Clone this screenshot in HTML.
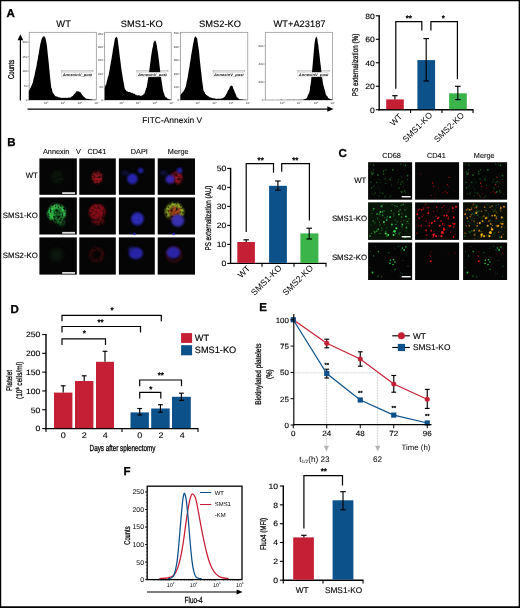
<!DOCTYPE html>
<html><head><meta charset="utf-8"><title>Figure</title>
<style>
html,body{margin:0;padding:0;background:#fff;}
body{width:520px;height:608px;overflow:hidden;position:relative;}
svg{position:absolute;left:0;top:0;display:block;will-change:transform;text-rendering:geometricPrecision;font-family:'Liberation Sans', Arial, Helvetica, sans-serif;}
.frame{position:absolute;left:0;top:0;width:520px;height:608px;box-sizing:border-box;border-style:solid;border-color:#000;border-width:1.5px 2px 2px 1.5px;}
</style></head><body>
<svg width="520" height="608" viewBox="0 0 520 608">
<rect x="0" y="0" width="520" height="608" fill="#fff"/>
<text x="6.50" y="16.50" font-size="11.5" text-anchor="start" font-weight="bold" stroke="#000" stroke-width="0.3">A</text>
<text x="7.30" y="146.20" font-size="11.5" text-anchor="start" font-weight="bold" stroke="#000" stroke-width="0.3">B</text>
<text x="338.50" y="156.70" font-size="11.5" text-anchor="start" font-weight="bold" stroke="#000" stroke-width="0.3">C</text>
<text x="10.50" y="313.30" font-size="11.5" text-anchor="start" font-weight="bold" stroke="#000" stroke-width="0.3">D</text>
<text x="259.30" y="311.30" font-size="11.5" text-anchor="start" font-weight="bold" stroke="#000" stroke-width="0.3">E</text>
<text x="123.50" y="475.20" font-size="11.5" text-anchor="start" font-weight="bold" stroke="#000" stroke-width="0.3">F</text>
<rect x="29.20" y="32.30" width="67.10" height="67.70" fill="#fff" stroke="#8c8c8c" stroke-width="0.7"/>
<path d="M28.77 100.00L28.77 90.97L29.22 89.94L29.67 89.70L30.12 88.19L30.57 87.89L31.02 86.72L31.47 85.39L31.92 84.96L32.37 83.43L32.82 82.53L33.27 80.22L33.72 78.37L34.17 76.90L34.62 75.37L35.07 72.28L35.52 70.15L35.97 68.38L36.42 66.52L36.87 63.73L37.32 61.09L37.77 59.36L38.22 55.82L38.67 54.35L39.12 51.07L39.57 48.30L40.02 45.67L40.47 43.31L40.92 42.07L41.37 39.82L41.82 38.82L42.27 37.70L42.72 37.07L43.17 36.96L43.62 36.06L44.07 36.20L44.52 36.60L44.97 37.39L45.42 38.06L45.87 39.92L46.32 42.25L46.77 44.77L47.22 48.59L47.67 53.18L48.12 57.20L48.57 61.15L49.02 66.05L49.47 70.49L49.92 75.41L50.37 79.74L50.82 83.71L51.27 87.81L51.72 88.42L52.17 90.42L52.62 92.40L53.07 92.78L53.52 93.65L53.97 93.90L54.42 94.94L54.87 95.58L55.32 96.03L55.77 96.42L56.22 96.25L56.67 96.61L57.12 96.70L57.57 96.85L58.02 96.93L58.47 97.26L58.92 97.46L59.37 97.39L59.82 97.62L60.27 97.45L60.72 97.75L61.17 97.76L61.62 97.94L62.07 97.90L62.52 97.72L62.97 97.79L63.42 97.94L63.87 97.72L64.32 97.92L64.77 97.85L65.22 97.86L65.67 97.87L66.12 98.17L66.57 97.87L67.02 97.84L67.47 97.81L67.92 97.93L68.37 97.54L68.82 97.61L69.27 97.58L69.72 97.65L70.17 97.55L70.62 97.50L71.07 96.98L71.52 96.70L71.97 96.33L72.42 96.29L72.87 96.01L73.32 95.17L73.77 94.84L74.22 94.31L74.67 93.69L75.12 93.29L75.57 92.78L76.02 91.87L76.47 91.28L76.92 91.48L77.37 91.22L77.82 91.22L78.27 91.43L78.72 91.26L79.17 91.43L79.62 91.89L80.07 92.30L80.52 92.08L80.97 93.34L81.42 93.87L81.87 94.59L82.32 95.17L82.77 95.56L83.22 96.15L83.67 96.40L84.12 97.08L84.57 97.23L85.02 97.65L85.47 98.13L85.92 98.53L86.37 98.82L86.82 98.79L87.27 98.82L87.72 98.92L88.17 98.95L88.62 99.07L89.07 99.03L89.52 99.31L89.97 99.29L90.42 99.22L90.87 99.29L91.32 99.37L91.77 99.42L92.22 99.41L92.67 99.63L93.12 99.70L93.57 99.64L94.02 99.69L94.47 99.66L94.92 99.71L95.37 99.81L95.82 99.84L96.15 100.00Z" fill="#000" stroke="none" stroke-width="1"/>
<line x1="28.00" y1="42.45" x2="29.20" y2="42.45" stroke="#555" stroke-width="0.4"/>
<text x="27.40" y="43.45" font-size="3.0" text-anchor="end" fill="#2a2a2a">200</text>
<line x1="28.00" y1="56.67" x2="29.20" y2="56.67" stroke="#555" stroke-width="0.4"/>
<text x="27.40" y="57.67" font-size="3.0" text-anchor="end" fill="#2a2a2a">150</text>
<line x1="28.00" y1="71.23" x2="29.20" y2="71.23" stroke="#555" stroke-width="0.4"/>
<text x="27.40" y="72.23" font-size="3.0" text-anchor="end" fill="#2a2a2a">100</text>
<line x1="28.00" y1="85.78" x2="29.20" y2="85.78" stroke="#555" stroke-width="0.4"/>
<text x="27.40" y="86.78" font-size="3.0" text-anchor="end" fill="#2a2a2a">50</text>
<line x1="28.00" y1="100.00" x2="29.20" y2="100.00" stroke="#555" stroke-width="0.4"/>
<text x="27.40" y="101.00" font-size="3.0" text-anchor="end" fill="#2a2a2a">0</text>
<line x1="28.60" y1="100.00" x2="29.20" y2="100.00" stroke="#777" stroke-width="0.25"/>
<line x1="28.60" y1="97.40" x2="29.20" y2="97.40" stroke="#777" stroke-width="0.25"/>
<line x1="28.60" y1="94.79" x2="29.20" y2="94.79" stroke="#777" stroke-width="0.25"/>
<line x1="28.60" y1="92.19" x2="29.20" y2="92.19" stroke="#777" stroke-width="0.25"/>
<line x1="28.60" y1="89.58" x2="29.20" y2="89.58" stroke="#777" stroke-width="0.25"/>
<line x1="28.60" y1="86.98" x2="29.20" y2="86.98" stroke="#777" stroke-width="0.25"/>
<line x1="28.60" y1="84.38" x2="29.20" y2="84.38" stroke="#777" stroke-width="0.25"/>
<line x1="28.60" y1="81.77" x2="29.20" y2="81.77" stroke="#777" stroke-width="0.25"/>
<line x1="28.60" y1="79.17" x2="29.20" y2="79.17" stroke="#777" stroke-width="0.25"/>
<line x1="28.60" y1="76.57" x2="29.20" y2="76.57" stroke="#777" stroke-width="0.25"/>
<line x1="28.60" y1="73.96" x2="29.20" y2="73.96" stroke="#777" stroke-width="0.25"/>
<line x1="28.60" y1="71.36" x2="29.20" y2="71.36" stroke="#777" stroke-width="0.25"/>
<line x1="28.60" y1="68.75" x2="29.20" y2="68.75" stroke="#777" stroke-width="0.25"/>
<line x1="28.60" y1="66.15" x2="29.20" y2="66.15" stroke="#777" stroke-width="0.25"/>
<line x1="28.60" y1="63.55" x2="29.20" y2="63.55" stroke="#777" stroke-width="0.25"/>
<line x1="28.60" y1="60.94" x2="29.20" y2="60.94" stroke="#777" stroke-width="0.25"/>
<line x1="28.60" y1="58.34" x2="29.20" y2="58.34" stroke="#777" stroke-width="0.25"/>
<line x1="28.60" y1="55.73" x2="29.20" y2="55.73" stroke="#777" stroke-width="0.25"/>
<line x1="28.60" y1="53.13" x2="29.20" y2="53.13" stroke="#777" stroke-width="0.25"/>
<line x1="28.60" y1="50.53" x2="29.20" y2="50.53" stroke="#777" stroke-width="0.25"/>
<line x1="28.60" y1="47.92" x2="29.20" y2="47.92" stroke="#777" stroke-width="0.25"/>
<line x1="28.60" y1="45.32" x2="29.20" y2="45.32" stroke="#777" stroke-width="0.25"/>
<line x1="28.60" y1="42.72" x2="29.20" y2="42.72" stroke="#777" stroke-width="0.25"/>
<line x1="28.60" y1="40.11" x2="29.20" y2="40.11" stroke="#777" stroke-width="0.25"/>
<line x1="28.60" y1="37.51" x2="29.20" y2="37.51" stroke="#777" stroke-width="0.25"/>
<line x1="28.60" y1="34.90" x2="29.20" y2="34.90" stroke="#777" stroke-width="0.25"/>
<text x="45.64" y="104.40" font-size="3.0" text-anchor="middle" fill="#2a2a2a">10</text>
<text x="47.84" y="103.10" font-size="2.0" text-anchor="middle" fill="#2a2a2a">2</text>
<text x="62.41" y="104.40" font-size="3.0" text-anchor="middle" fill="#2a2a2a">10</text>
<text x="64.61" y="103.10" font-size="2.0" text-anchor="middle" fill="#2a2a2a">3</text>
<text x="79.19" y="104.40" font-size="3.0" text-anchor="middle" fill="#2a2a2a">10</text>
<text x="81.39" y="103.10" font-size="2.0" text-anchor="middle" fill="#2a2a2a">4</text>
<text x="95.96" y="104.40" font-size="3.0" text-anchor="middle" fill="#2a2a2a">10</text>
<text x="98.16" y="103.10" font-size="2.0" text-anchor="middle" fill="#2a2a2a">5</text>
<line x1="61.68" y1="70.89" x2="93.08" y2="70.89" stroke="#444" stroke-width="0.4"/>
<line x1="61.68" y1="70.09" x2="61.68" y2="71.69" stroke="#444" stroke-width="0.4"/>
<line x1="93.08" y1="70.09" x2="93.08" y2="71.69" stroke="#444" stroke-width="0.4"/>
<rect x="61.68" y="72.19" width="29.20" height="4.70" fill="#fff" stroke="#bbb" stroke-width="0.4"/>
<text x="0" y="0" font-size="3.6" text-anchor="start" transform="translate(62.68 75.89) scale(1.1326 1)" fill="#111" font-style="italic" font-weight="bold">AnnexinV_posi</text>
<text x="63.60" y="27.20" font-size="9.3" text-anchor="middle" stroke="#000" stroke-width="0.12">WT</text>
<rect x="104.70" y="32.30" width="66.50" height="67.70" fill="#fff" stroke="#8c8c8c" stroke-width="0.7"/>
<path d="M104.69 100.00L104.69 88.47L105.14 86.41L105.59 84.99L106.04 84.85L106.49 82.94L106.94 80.78L107.39 79.56L107.84 77.24L108.29 76.14L108.74 74.47L109.19 71.99L109.64 69.45L110.09 66.58L110.54 64.37L110.99 61.55L111.44 59.50L111.89 56.44L112.34 53.95L112.79 50.64L113.24 47.73L113.69 45.73L114.14 43.23L114.59 40.36L115.04 38.30L115.49 37.84L115.94 37.28L116.39 36.56L116.84 37.44L117.29 37.78L117.74 40.05L118.19 43.32L118.64 46.94L119.09 50.44L119.54 54.49L119.99 58.33L120.44 61.25L120.89 65.24L121.34 68.50L121.79 71.67L122.24 74.16L122.69 77.20L123.14 79.91L123.59 82.22L124.04 84.59L124.49 87.44L124.94 89.02L125.39 89.65L125.84 89.91L126.29 90.81L126.74 91.51L127.19 90.88L127.64 91.62L128.09 92.00L128.54 92.00L128.99 92.09L129.44 91.95L129.89 91.79L130.34 92.51L130.79 92.21L131.24 92.77L131.69 93.06L132.14 92.71L132.59 92.94L133.04 93.63L133.49 93.66L133.94 93.43L134.39 93.63L134.84 93.89L135.29 94.68L135.74 94.82L136.19 94.58L136.64 95.24L137.09 95.41L137.54 95.27L137.99 95.14L138.44 95.35L138.89 95.16L139.34 95.16L139.79 95.84L140.24 95.71L140.69 95.71L141.14 96.03L141.59 95.51L142.04 95.57L142.49 95.32L142.94 94.67L143.39 94.47L143.84 94.27L144.29 93.85L144.74 92.82L145.19 91.18L145.64 90.02L146.09 88.36L146.54 87.98L146.99 85.54L147.44 82.67L147.89 79.84L148.34 77.23L148.79 73.66L149.24 71.23L149.69 67.40L150.14 64.10L150.59 60.75L151.04 56.82L151.49 53.99L151.94 50.95L152.39 48.43L152.84 47.07L153.29 44.02L153.74 42.07L154.19 41.51L154.64 40.83L155.09 40.34L155.54 41.35L155.99 42.17L156.44 43.78L156.89 45.91L157.34 49.41L157.79 51.99L158.24 54.97L158.69 59.06L159.14 62.35L159.59 66.03L160.04 69.88L160.49 73.67L160.94 76.54L161.39 79.74L161.84 82.60L162.29 85.59L162.74 88.80L163.19 91.27L163.64 92.55L164.09 93.71L164.54 95.23L164.99 96.25L165.44 96.96L165.89 97.33L166.34 97.38L166.79 97.86L167.24 98.35L167.69 98.65L168.14 98.76L168.59 98.92L169.04 99.17L169.49 99.24L169.94 99.44L170.39 99.57L170.84 99.85L171.15 100.00Z" fill="#000" stroke="none" stroke-width="1"/>
<line x1="103.50" y1="33.65" x2="104.70" y2="33.65" stroke="#555" stroke-width="0.4"/>
<text x="102.90" y="34.65" font-size="3.0" text-anchor="end" fill="#2a2a2a">250</text>
<line x1="103.50" y1="46.52" x2="104.70" y2="46.52" stroke="#555" stroke-width="0.4"/>
<text x="102.90" y="47.52" font-size="3.0" text-anchor="end" fill="#2a2a2a">200</text>
<line x1="103.50" y1="60.06" x2="104.70" y2="60.06" stroke="#555" stroke-width="0.4"/>
<text x="102.90" y="61.06" font-size="3.0" text-anchor="end" fill="#2a2a2a">150</text>
<line x1="103.50" y1="73.60" x2="104.70" y2="73.60" stroke="#555" stroke-width="0.4"/>
<text x="102.90" y="74.60" font-size="3.0" text-anchor="end" fill="#2a2a2a">100</text>
<line x1="103.50" y1="86.80" x2="104.70" y2="86.80" stroke="#555" stroke-width="0.4"/>
<text x="102.90" y="87.80" font-size="3.0" text-anchor="end" fill="#2a2a2a">50</text>
<line x1="103.50" y1="100.00" x2="104.70" y2="100.00" stroke="#555" stroke-width="0.4"/>
<text x="102.90" y="101.00" font-size="3.0" text-anchor="end" fill="#2a2a2a">0</text>
<line x1="104.10" y1="100.00" x2="104.70" y2="100.00" stroke="#777" stroke-width="0.25"/>
<line x1="104.10" y1="97.40" x2="104.70" y2="97.40" stroke="#777" stroke-width="0.25"/>
<line x1="104.10" y1="94.79" x2="104.70" y2="94.79" stroke="#777" stroke-width="0.25"/>
<line x1="104.10" y1="92.19" x2="104.70" y2="92.19" stroke="#777" stroke-width="0.25"/>
<line x1="104.10" y1="89.58" x2="104.70" y2="89.58" stroke="#777" stroke-width="0.25"/>
<line x1="104.10" y1="86.98" x2="104.70" y2="86.98" stroke="#777" stroke-width="0.25"/>
<line x1="104.10" y1="84.38" x2="104.70" y2="84.38" stroke="#777" stroke-width="0.25"/>
<line x1="104.10" y1="81.77" x2="104.70" y2="81.77" stroke="#777" stroke-width="0.25"/>
<line x1="104.10" y1="79.17" x2="104.70" y2="79.17" stroke="#777" stroke-width="0.25"/>
<line x1="104.10" y1="76.57" x2="104.70" y2="76.57" stroke="#777" stroke-width="0.25"/>
<line x1="104.10" y1="73.96" x2="104.70" y2="73.96" stroke="#777" stroke-width="0.25"/>
<line x1="104.10" y1="71.36" x2="104.70" y2="71.36" stroke="#777" stroke-width="0.25"/>
<line x1="104.10" y1="68.75" x2="104.70" y2="68.75" stroke="#777" stroke-width="0.25"/>
<line x1="104.10" y1="66.15" x2="104.70" y2="66.15" stroke="#777" stroke-width="0.25"/>
<line x1="104.10" y1="63.55" x2="104.70" y2="63.55" stroke="#777" stroke-width="0.25"/>
<line x1="104.10" y1="60.94" x2="104.70" y2="60.94" stroke="#777" stroke-width="0.25"/>
<line x1="104.10" y1="58.34" x2="104.70" y2="58.34" stroke="#777" stroke-width="0.25"/>
<line x1="104.10" y1="55.73" x2="104.70" y2="55.73" stroke="#777" stroke-width="0.25"/>
<line x1="104.10" y1="53.13" x2="104.70" y2="53.13" stroke="#777" stroke-width="0.25"/>
<line x1="104.10" y1="50.53" x2="104.70" y2="50.53" stroke="#777" stroke-width="0.25"/>
<line x1="104.10" y1="47.92" x2="104.70" y2="47.92" stroke="#777" stroke-width="0.25"/>
<line x1="104.10" y1="45.32" x2="104.70" y2="45.32" stroke="#777" stroke-width="0.25"/>
<line x1="104.10" y1="42.72" x2="104.70" y2="42.72" stroke="#777" stroke-width="0.25"/>
<line x1="104.10" y1="40.11" x2="104.70" y2="40.11" stroke="#777" stroke-width="0.25"/>
<line x1="104.10" y1="37.51" x2="104.70" y2="37.51" stroke="#777" stroke-width="0.25"/>
<line x1="104.10" y1="34.90" x2="104.70" y2="34.90" stroke="#777" stroke-width="0.25"/>
<text x="120.99" y="104.40" font-size="3.0" text-anchor="middle" fill="#2a2a2a">10</text>
<text x="123.19" y="103.10" font-size="2.0" text-anchor="middle" fill="#2a2a2a">2</text>
<text x="137.62" y="104.40" font-size="3.0" text-anchor="middle" fill="#2a2a2a">10</text>
<text x="139.82" y="103.10" font-size="2.0" text-anchor="middle" fill="#2a2a2a">3</text>
<text x="154.24" y="104.40" font-size="3.0" text-anchor="middle" fill="#2a2a2a">10</text>
<text x="156.44" y="103.10" font-size="2.0" text-anchor="middle" fill="#2a2a2a">4</text>
<text x="170.87" y="104.40" font-size="3.0" text-anchor="middle" fill="#2a2a2a">10</text>
<text x="173.07" y="103.10" font-size="2.0" text-anchor="middle" fill="#2a2a2a">5</text>
<line x1="136.89" y1="70.89" x2="168.01" y2="70.89" stroke="#444" stroke-width="0.4"/>
<line x1="136.89" y1="70.09" x2="136.89" y2="71.69" stroke="#444" stroke-width="0.4"/>
<line x1="168.01" y1="70.09" x2="168.01" y2="71.69" stroke="#444" stroke-width="0.4"/>
<rect x="136.89" y="72.19" width="28.92" height="4.70" fill="#fff" stroke="#bbb" stroke-width="0.4"/>
<text x="0" y="0" font-size="3.6" text-anchor="start" transform="translate(137.89 75.89) scale(1.1201 1)" fill="#111" font-style="italic" font-weight="bold">AnnexinV_posi</text>
<text x="141.80" y="27.20" font-size="9.3" text-anchor="middle" stroke="#000" stroke-width="0.12">SMS1-KO</text>
<rect x="180.60" y="32.30" width="67.20" height="67.70" fill="#fff" stroke="#8c8c8c" stroke-width="0.7"/>
<path d="M180.46 100.00L180.46 95.19L180.91 94.73L181.36 93.60L181.81 93.50L182.26 92.90L182.71 91.72L183.16 91.77L183.61 91.20L184.06 89.65L184.51 89.83L184.96 88.47L185.41 87.56L185.86 86.20L186.31 84.06L186.76 81.29L187.21 79.66L187.66 77.40L188.11 74.50L188.56 71.63L189.01 69.09L189.46 66.88L189.91 63.28L190.36 61.06L190.81 58.07L191.26 54.70L191.71 52.22L192.16 49.72L192.61 47.01L193.06 43.91L193.51 42.44L193.96 39.63L194.41 38.05L194.86 36.65L195.31 36.47L195.76 36.46L196.21 37.74L196.66 37.51L197.11 38.32L197.56 41.46L198.01 44.83L198.46 47.51L198.91 50.61L199.36 54.76L199.81 59.97L200.26 63.84L200.71 68.28L201.16 71.83L201.61 76.08L202.06 80.61L202.51 83.52L202.96 86.31L203.41 90.27L203.86 90.87L204.31 92.01L204.76 92.30L205.21 93.95L205.66 94.05L206.11 94.96L206.56 95.01L207.01 95.28L207.46 95.75L207.91 96.30L208.36 96.26L208.81 96.54L209.26 97.08L209.71 97.28L210.16 97.49L210.61 97.60L211.06 97.65L211.51 97.80L211.96 97.94L212.41 98.03L212.86 98.28L213.31 98.20L213.76 98.37L214.21 98.35L214.66 98.50L215.11 98.49L215.56 98.65L216.01 98.67L216.46 98.90L216.91 98.82L217.36 98.69L217.81 98.75L218.26 98.87L218.71 98.59L219.16 98.79L219.61 98.65L220.06 98.64L220.51 98.73L220.96 98.56L221.41 98.58L221.86 98.61L222.31 98.59L222.76 98.06L223.21 97.94L223.66 97.59L224.11 97.26L224.56 96.84L225.01 96.50L225.46 95.54L225.91 94.70L226.36 93.76L226.81 93.44L227.26 92.15L227.71 91.13L228.16 90.07L228.61 90.00L229.06 89.10L229.51 87.91L229.96 86.56L230.41 86.21L230.86 85.97L231.31 85.87L231.76 85.49L232.21 86.10L232.66 86.15L233.11 87.89L233.56 89.19L234.01 89.97L234.46 90.92L234.91 92.80L235.36 93.36L235.81 94.58L236.26 95.55L236.71 96.95L237.16 97.36L237.61 97.75L238.06 98.01L238.51 98.49L238.96 98.71L239.41 99.17L239.86 99.23L240.31 99.34L240.76 99.29L241.21 99.32L241.66 99.42L242.11 99.44L242.56 99.56L243.01 99.58L243.46 99.66L243.91 99.67L244.36 99.72L244.81 99.79L245.26 99.72L245.71 99.74L246.16 99.90L246.61 99.77L247.06 99.92L247.51 99.94L247.69 100.00Z" fill="#000" stroke="none" stroke-width="1"/>
<line x1="179.40" y1="33.32" x2="180.60" y2="33.32" stroke="#555" stroke-width="0.4"/>
<text x="178.80" y="34.32" font-size="3.0" text-anchor="end" fill="#2a2a2a">500</text>
<line x1="179.40" y1="46.52" x2="180.60" y2="46.52" stroke="#555" stroke-width="0.4"/>
<text x="178.80" y="47.52" font-size="3.0" text-anchor="end" fill="#2a2a2a">400</text>
<line x1="179.40" y1="60.06" x2="180.60" y2="60.06" stroke="#555" stroke-width="0.4"/>
<text x="178.80" y="61.06" font-size="3.0" text-anchor="end" fill="#2a2a2a">300</text>
<line x1="179.40" y1="73.60" x2="180.60" y2="73.60" stroke="#555" stroke-width="0.4"/>
<text x="178.80" y="74.60" font-size="3.0" text-anchor="end" fill="#2a2a2a">200</text>
<line x1="179.40" y1="86.80" x2="180.60" y2="86.80" stroke="#555" stroke-width="0.4"/>
<text x="178.80" y="87.80" font-size="3.0" text-anchor="end" fill="#2a2a2a">100</text>
<line x1="179.40" y1="100.00" x2="180.60" y2="100.00" stroke="#555" stroke-width="0.4"/>
<text x="178.80" y="101.00" font-size="3.0" text-anchor="end" fill="#2a2a2a">0</text>
<line x1="180.00" y1="100.00" x2="180.60" y2="100.00" stroke="#777" stroke-width="0.25"/>
<line x1="180.00" y1="97.40" x2="180.60" y2="97.40" stroke="#777" stroke-width="0.25"/>
<line x1="180.00" y1="94.79" x2="180.60" y2="94.79" stroke="#777" stroke-width="0.25"/>
<line x1="180.00" y1="92.19" x2="180.60" y2="92.19" stroke="#777" stroke-width="0.25"/>
<line x1="180.00" y1="89.58" x2="180.60" y2="89.58" stroke="#777" stroke-width="0.25"/>
<line x1="180.00" y1="86.98" x2="180.60" y2="86.98" stroke="#777" stroke-width="0.25"/>
<line x1="180.00" y1="84.38" x2="180.60" y2="84.38" stroke="#777" stroke-width="0.25"/>
<line x1="180.00" y1="81.77" x2="180.60" y2="81.77" stroke="#777" stroke-width="0.25"/>
<line x1="180.00" y1="79.17" x2="180.60" y2="79.17" stroke="#777" stroke-width="0.25"/>
<line x1="180.00" y1="76.57" x2="180.60" y2="76.57" stroke="#777" stroke-width="0.25"/>
<line x1="180.00" y1="73.96" x2="180.60" y2="73.96" stroke="#777" stroke-width="0.25"/>
<line x1="180.00" y1="71.36" x2="180.60" y2="71.36" stroke="#777" stroke-width="0.25"/>
<line x1="180.00" y1="68.75" x2="180.60" y2="68.75" stroke="#777" stroke-width="0.25"/>
<line x1="180.00" y1="66.15" x2="180.60" y2="66.15" stroke="#777" stroke-width="0.25"/>
<line x1="180.00" y1="63.55" x2="180.60" y2="63.55" stroke="#777" stroke-width="0.25"/>
<line x1="180.00" y1="60.94" x2="180.60" y2="60.94" stroke="#777" stroke-width="0.25"/>
<line x1="180.00" y1="58.34" x2="180.60" y2="58.34" stroke="#777" stroke-width="0.25"/>
<line x1="180.00" y1="55.73" x2="180.60" y2="55.73" stroke="#777" stroke-width="0.25"/>
<line x1="180.00" y1="53.13" x2="180.60" y2="53.13" stroke="#777" stroke-width="0.25"/>
<line x1="180.00" y1="50.53" x2="180.60" y2="50.53" stroke="#777" stroke-width="0.25"/>
<line x1="180.00" y1="47.92" x2="180.60" y2="47.92" stroke="#777" stroke-width="0.25"/>
<line x1="180.00" y1="45.32" x2="180.60" y2="45.32" stroke="#777" stroke-width="0.25"/>
<line x1="180.00" y1="42.72" x2="180.60" y2="42.72" stroke="#777" stroke-width="0.25"/>
<line x1="180.00" y1="40.11" x2="180.60" y2="40.11" stroke="#777" stroke-width="0.25"/>
<line x1="180.00" y1="37.51" x2="180.60" y2="37.51" stroke="#777" stroke-width="0.25"/>
<line x1="180.00" y1="34.90" x2="180.60" y2="34.90" stroke="#777" stroke-width="0.25"/>
<text x="197.06" y="104.40" font-size="3.0" text-anchor="middle" fill="#2a2a2a">10</text>
<text x="199.26" y="103.10" font-size="2.0" text-anchor="middle" fill="#2a2a2a">2</text>
<text x="213.86" y="104.40" font-size="3.0" text-anchor="middle" fill="#2a2a2a">10</text>
<text x="216.06" y="103.10" font-size="2.0" text-anchor="middle" fill="#2a2a2a">3</text>
<text x="230.66" y="104.40" font-size="3.0" text-anchor="middle" fill="#2a2a2a">10</text>
<text x="232.86" y="103.10" font-size="2.0" text-anchor="middle" fill="#2a2a2a">4</text>
<text x="247.46" y="104.40" font-size="3.0" text-anchor="middle" fill="#2a2a2a">10</text>
<text x="249.66" y="103.10" font-size="2.0" text-anchor="middle" fill="#2a2a2a">5</text>
<line x1="213.12" y1="70.89" x2="244.57" y2="70.89" stroke="#444" stroke-width="0.4"/>
<line x1="213.12" y1="70.09" x2="213.12" y2="71.69" stroke="#444" stroke-width="0.4"/>
<line x1="244.57" y1="70.09" x2="244.57" y2="71.69" stroke="#444" stroke-width="0.4"/>
<rect x="213.12" y="72.19" width="29.25" height="4.70" fill="#fff" stroke="#bbb" stroke-width="0.4"/>
<text x="0" y="0" font-size="3.6" text-anchor="start" transform="translate(214.12 75.89) scale(1.1326 1)" fill="#111" font-style="italic" font-weight="bold">AnnexinV_posi</text>
<text x="220.00" y="27.20" font-size="9.3" text-anchor="middle" stroke="#000" stroke-width="0.12">SMS2-KO</text>
<rect x="265.30" y="32.30" width="67.30" height="67.70" fill="#fff" stroke="#8c8c8c" stroke-width="0.7"/>
<path d="M265.19 100.00L265.19 99.92L265.64 100.00L266.09 100.00L266.54 100.00L266.99 100.00L267.44 100.00L267.89 99.92L268.34 99.99L268.79 99.98L269.24 100.00L269.69 100.00L270.14 100.00L270.59 99.99L271.04 100.00L271.49 100.00L271.94 100.00L272.39 99.91L272.84 99.87L273.29 99.89L273.74 99.93L274.19 99.88L274.64 100.00L275.09 99.96L275.54 99.97L275.99 99.97L276.44 99.98L276.89 99.94L277.34 99.85L277.79 99.99L278.24 99.98L278.69 99.93L279.14 99.94L279.59 99.96L280.04 99.84L280.49 99.97L280.94 99.87L281.39 99.84L281.84 99.87L282.29 99.96L282.74 99.85L283.19 99.95L283.64 100.00L284.09 99.90L284.54 99.88L284.99 99.89L285.44 99.93L285.89 99.94L286.34 99.91L286.79 99.92L287.24 99.81L287.69 99.82L288.14 99.84L288.59 99.93L289.04 99.84L289.49 99.89L289.94 99.78L290.39 99.79L290.84 99.82L291.29 99.90L291.74 99.90L292.19 99.90L292.64 99.82L293.09 99.86L293.54 99.85L293.99 99.85L294.44 99.78L294.89 99.92L295.34 99.79L295.79 99.94L296.24 99.93L296.69 99.74L297.14 99.83L297.59 99.90L298.04 99.92L298.49 99.82L298.94 99.78L299.39 99.77L299.84 99.91L300.29 99.76L300.74 99.83L301.19 99.74L301.64 99.82L302.09 99.90L302.54 99.74L302.99 99.77L303.44 99.55L303.89 99.48L304.34 99.28L304.79 99.00L305.24 99.03L305.69 98.75L306.14 98.45L306.59 98.18L307.04 97.38L307.49 96.40L307.94 95.34L308.39 94.24L308.84 93.42L309.29 92.42L309.74 90.47L310.19 86.33L310.64 84.07L311.09 81.03L311.54 76.23L311.99 72.25L312.44 67.04L312.89 62.32L313.34 56.62L313.79 51.65L314.24 46.62L314.69 42.28L315.14 39.54L315.59 37.98L316.04 36.77L316.49 36.95L316.94 37.57L317.39 38.90L317.84 42.63L318.29 44.82L318.74 49.20L319.19 52.43L319.64 56.50L320.09 60.84L320.54 64.30L320.99 67.98L321.44 72.15L321.89 75.52L322.34 78.90L322.79 82.14L323.24 84.62L323.69 86.45L324.14 87.78L324.59 89.79L325.04 90.85L325.49 93.32L325.94 94.45L326.39 95.31L326.84 95.89L327.29 96.35L327.74 96.91L328.19 97.96L328.64 98.32L329.09 98.61L329.54 98.73L329.99 98.87L330.44 99.15L330.89 99.37L331.34 99.35L331.79 99.59L332.24 99.68L332.50 100.00Z" fill="#000" stroke="none" stroke-width="1"/>
<line x1="264.10" y1="45.84" x2="265.30" y2="45.84" stroke="#555" stroke-width="0.4"/>
<text x="263.50" y="46.84" font-size="3.0" text-anchor="end" fill="#2a2a2a">600</text>
<line x1="264.10" y1="64.12" x2="265.30" y2="64.12" stroke="#555" stroke-width="0.4"/>
<text x="263.50" y="65.12" font-size="3.0" text-anchor="end" fill="#2a2a2a">400</text>
<line x1="264.10" y1="82.06" x2="265.30" y2="82.06" stroke="#555" stroke-width="0.4"/>
<text x="263.50" y="83.06" font-size="3.0" text-anchor="end" fill="#2a2a2a">200</text>
<line x1="264.10" y1="100.00" x2="265.30" y2="100.00" stroke="#555" stroke-width="0.4"/>
<text x="263.50" y="101.00" font-size="3.0" text-anchor="end" fill="#2a2a2a">0</text>
<line x1="264.70" y1="100.00" x2="265.30" y2="100.00" stroke="#777" stroke-width="0.25"/>
<line x1="264.70" y1="97.40" x2="265.30" y2="97.40" stroke="#777" stroke-width="0.25"/>
<line x1="264.70" y1="94.79" x2="265.30" y2="94.79" stroke="#777" stroke-width="0.25"/>
<line x1="264.70" y1="92.19" x2="265.30" y2="92.19" stroke="#777" stroke-width="0.25"/>
<line x1="264.70" y1="89.58" x2="265.30" y2="89.58" stroke="#777" stroke-width="0.25"/>
<line x1="264.70" y1="86.98" x2="265.30" y2="86.98" stroke="#777" stroke-width="0.25"/>
<line x1="264.70" y1="84.38" x2="265.30" y2="84.38" stroke="#777" stroke-width="0.25"/>
<line x1="264.70" y1="81.77" x2="265.30" y2="81.77" stroke="#777" stroke-width="0.25"/>
<line x1="264.70" y1="79.17" x2="265.30" y2="79.17" stroke="#777" stroke-width="0.25"/>
<line x1="264.70" y1="76.57" x2="265.30" y2="76.57" stroke="#777" stroke-width="0.25"/>
<line x1="264.70" y1="73.96" x2="265.30" y2="73.96" stroke="#777" stroke-width="0.25"/>
<line x1="264.70" y1="71.36" x2="265.30" y2="71.36" stroke="#777" stroke-width="0.25"/>
<line x1="264.70" y1="68.75" x2="265.30" y2="68.75" stroke="#777" stroke-width="0.25"/>
<line x1="264.70" y1="66.15" x2="265.30" y2="66.15" stroke="#777" stroke-width="0.25"/>
<line x1="264.70" y1="63.55" x2="265.30" y2="63.55" stroke="#777" stroke-width="0.25"/>
<line x1="264.70" y1="60.94" x2="265.30" y2="60.94" stroke="#777" stroke-width="0.25"/>
<line x1="264.70" y1="58.34" x2="265.30" y2="58.34" stroke="#777" stroke-width="0.25"/>
<line x1="264.70" y1="55.73" x2="265.30" y2="55.73" stroke="#777" stroke-width="0.25"/>
<line x1="264.70" y1="53.13" x2="265.30" y2="53.13" stroke="#777" stroke-width="0.25"/>
<line x1="264.70" y1="50.53" x2="265.30" y2="50.53" stroke="#777" stroke-width="0.25"/>
<line x1="264.70" y1="47.92" x2="265.30" y2="47.92" stroke="#777" stroke-width="0.25"/>
<line x1="264.70" y1="45.32" x2="265.30" y2="45.32" stroke="#777" stroke-width="0.25"/>
<line x1="264.70" y1="42.72" x2="265.30" y2="42.72" stroke="#777" stroke-width="0.25"/>
<line x1="264.70" y1="40.11" x2="265.30" y2="40.11" stroke="#777" stroke-width="0.25"/>
<line x1="264.70" y1="37.51" x2="265.30" y2="37.51" stroke="#777" stroke-width="0.25"/>
<line x1="264.70" y1="34.90" x2="265.30" y2="34.90" stroke="#777" stroke-width="0.25"/>
<text x="281.79" y="104.40" font-size="3.0" text-anchor="middle" fill="#2a2a2a">10</text>
<text x="283.99" y="103.10" font-size="2.0" text-anchor="middle" fill="#2a2a2a">2</text>
<text x="298.61" y="104.40" font-size="3.0" text-anchor="middle" fill="#2a2a2a">10</text>
<text x="300.81" y="103.10" font-size="2.0" text-anchor="middle" fill="#2a2a2a">3</text>
<text x="315.44" y="104.40" font-size="3.0" text-anchor="middle" fill="#2a2a2a">10</text>
<text x="317.64" y="103.10" font-size="2.0" text-anchor="middle" fill="#2a2a2a">4</text>
<text x="332.26" y="104.40" font-size="3.0" text-anchor="middle" fill="#2a2a2a">10</text>
<text x="334.46" y="103.10" font-size="2.0" text-anchor="middle" fill="#2a2a2a">5</text>
<line x1="297.87" y1="70.89" x2="329.37" y2="70.89" stroke="#444" stroke-width="0.4"/>
<line x1="297.87" y1="70.09" x2="297.87" y2="71.69" stroke="#444" stroke-width="0.4"/>
<line x1="329.37" y1="70.09" x2="329.37" y2="71.69" stroke="#444" stroke-width="0.4"/>
<rect x="297.87" y="72.19" width="29.30" height="4.70" fill="#fff" stroke="#bbb" stroke-width="0.4"/>
<text x="0" y="0" font-size="3.6" text-anchor="start" transform="translate(298.87 75.89) scale(1.1367 1)" fill="#111" font-style="italic" font-weight="bold">AnnexinV_posi</text>
<text x="299.50" y="27.20" font-size="9.3" text-anchor="middle" stroke="#000" stroke-width="0.12">WT+A23187</text>
<line x1="20.40" y1="100.40" x2="20.40" y2="38.00" stroke="#000" stroke-width="1.2"/>
<path d="M20.4 34.3L17.6 40.3H23.2Z" fill="#000" stroke="none" stroke-width="1"/>
<text x="0" y="0" font-size="8.4" text-anchor="middle" transform="translate(14.30 69.40) rotate(-90) scale(0.7252 1)" stroke="#000" stroke-width="0.3">Counts</text>
<line x1="27.50" y1="109.00" x2="329.00" y2="109.00" stroke="#000" stroke-width="1.25"/>
<path d="M333.5 109.0L327.3 106.2V111.8Z" fill="#000" stroke="none" stroke-width="1"/>
<text x="172.20" y="122.70" font-size="8.45" text-anchor="middle" stroke="#000" stroke-width="0.1">FITC-Annexin V</text>
<line x1="379.20" y1="15.25" x2="379.20" y2="110.40" stroke="#000" stroke-width="1.4"/>
<line x1="375.80" y1="109.70" x2="379.20" y2="109.70" stroke="#000" stroke-width="1.1"/>
<text x="0" y="0" font-size="7.7" text-anchor="end" transform="translate(374.90 112.50) scale(1.1200 1)" stroke="#000" stroke-width="0.12">0</text>
<line x1="375.80" y1="86.22" x2="379.20" y2="86.22" stroke="#000" stroke-width="1.1"/>
<text x="0" y="0" font-size="7.7" text-anchor="end" transform="translate(374.90 89.02) scale(1.1200 1)" stroke="#000" stroke-width="0.12">20</text>
<line x1="375.80" y1="62.75" x2="379.20" y2="62.75" stroke="#000" stroke-width="1.1"/>
<text x="0" y="0" font-size="7.7" text-anchor="end" transform="translate(374.90 65.55) scale(1.1200 1)" stroke="#000" stroke-width="0.12">40</text>
<line x1="375.80" y1="39.27" x2="379.20" y2="39.27" stroke="#000" stroke-width="1.1"/>
<text x="0" y="0" font-size="7.7" text-anchor="end" transform="translate(374.90 42.07) scale(1.1200 1)" stroke="#000" stroke-width="0.12">60</text>
<line x1="375.80" y1="15.80" x2="379.20" y2="15.80" stroke="#000" stroke-width="1.1"/>
<text x="0" y="0" font-size="7.7" text-anchor="end" transform="translate(374.90 18.60) scale(1.1200 1)" stroke="#000" stroke-width="0.12">80</text>
<line x1="378.50" y1="109.70" x2="473.50" y2="109.70" stroke="#000" stroke-width="1.4"/>
<line x1="410.60" y1="109.70" x2="410.60" y2="113.10" stroke="#000" stroke-width="1.1"/>
<line x1="442.00" y1="109.70" x2="442.00" y2="113.10" stroke="#000" stroke-width="1.1"/>
<line x1="473.00" y1="109.70" x2="473.00" y2="113.10" stroke="#000" stroke-width="1.1"/>
<rect x="386.20" y="99.40" width="17.60" height="9.80" fill="#c41f35"/>
<rect x="417.40" y="60.10" width="17.70" height="49.10" fill="#0d518a"/>
<rect x="449.10" y="93.30" width="17.70" height="15.90" fill="#3bb44a"/>
<line x1="394.90" y1="95.70" x2="394.90" y2="99.40" stroke="#000" stroke-width="1.15"/>
<line x1="392.20" y1="95.70" x2="397.60" y2="95.70" stroke="#000" stroke-width="1.15"/>
<line x1="426.20" y1="38.60" x2="426.20" y2="81.00" stroke="#000" stroke-width="1.15"/>
<line x1="423.40" y1="38.60" x2="429.00" y2="38.60" stroke="#000" stroke-width="1.15"/>
<line x1="423.40" y1="81.00" x2="429.00" y2="81.00" stroke="#000" stroke-width="1.15"/>
<line x1="457.80" y1="86.30" x2="457.80" y2="99.60" stroke="#000" stroke-width="1.15"/>
<line x1="455.00" y1="86.30" x2="460.60" y2="86.30" stroke="#000" stroke-width="1.15"/>
<line x1="455.00" y1="99.60" x2="460.60" y2="99.60" stroke="#000" stroke-width="1.15"/>
<path d="M395.80 88.70V21.60H421.80V30.40" fill="none" stroke="#000" stroke-width="1.2"/>
<path d="M430.90 30.40V21.60H457.40V79.20" fill="none" stroke="#000" stroke-width="1.2"/>
<text x="408.80" y="20.98" font-size="8" text-anchor="middle" stroke="#000" stroke-width="0.35">**</text>
<text x="443.20" y="20.98" font-size="8" text-anchor="middle" stroke="#000" stroke-width="0.35">*</text>
<text x="0" y="0" font-size="8.3" text-anchor="middle" transform="translate(357.60 65.00) rotate(-90) scale(0.7612 1)" stroke="#000" stroke-width="0.25">PS externalization (%)</text>
<text x="402.80" y="117.10" font-size="8.5" text-anchor="end" transform="rotate(-45 402.80 117.10)">WT</text>
<text x="433.00" y="115.70" font-size="8.5" text-anchor="end" transform="rotate(-45 433.00 115.70)">SMS1-KO</text>
<text x="464.60" y="115.70" font-size="8.5" text-anchor="end" transform="rotate(-45 464.60 115.70)">SMS2-KO</text>
<defs><filter id="b1" x="-50%" y="-50%" width="200%" height="200%"><feGaussianBlur stdDeviation="1.1"/></filter><filter id="b2" x="-50%" y="-50%" width="200%" height="200%"><feGaussianBlur stdDeviation="2"/></filter><filter id="b05" x="-50%" y="-50%" width="200%" height="200%"><feGaussianBlur stdDeviation="0.4"/></filter><filter id="tx" x="-50%" y="-50%" width="200%" height="200%"><feTurbulence type="fractalNoise" baseFrequency="0.42" numOctaves="2" seed="4" result="n"/><feColorMatrix in="n" type="matrix" values="0 0 0 0 0 0 0 0 0 0 0 0 0 0 0 0 0 0 2.6 -0.55" result="a"/><feGaussianBlur in="SourceGraphic" stdDeviation="1.2" result="b"/><feComposite in="b" in2="a" operator="in" result="c"/><feGaussianBlur in="c" stdDeviation="0.35"/></filter><filter id="tx2" x="-50%" y="-50%" width="200%" height="200%"><feTurbulence type="fractalNoise" baseFrequency="0.5" numOctaves="2" seed="9" result="n"/><feColorMatrix in="n" type="matrix" values="0 0 0 0 0 0 0 0 0 0 0 0 0 0 0 0 0 0 2.8 -0.7" result="a"/><feGaussianBlur in="SourceGraphic" stdDeviation="0.9" result="b"/><feComposite in="b" in2="a" operator="in" result="c"/><feGaussianBlur in="c" stdDeviation="0.3"/></filter></defs>
<rect x="39.40" y="158.40" width="37.40" height="36.40" fill="#050505"/>
<rect x="79.30" y="158.40" width="36.50" height="36.40" fill="#050505"/>
<rect x="118.90" y="158.40" width="35.90" height="36.40" fill="#050505"/>
<rect x="157.70" y="158.40" width="37.30" height="36.40" fill="#050505"/>
<rect x="62.20" y="192.20" width="12.80" height="1.80" fill="#dcdcdc"/>
<rect x="39.40" y="197.40" width="37.40" height="37.10" fill="#050505"/>
<rect x="79.30" y="197.40" width="36.50" height="37.10" fill="#050505"/>
<rect x="118.90" y="197.40" width="35.90" height="37.10" fill="#050505"/>
<rect x="157.70" y="197.40" width="37.30" height="37.10" fill="#050505"/>
<rect x="62.20" y="231.90" width="12.80" height="1.80" fill="#dcdcdc"/>
<rect x="39.40" y="237.40" width="37.40" height="37.20" fill="#050505"/>
<rect x="79.30" y="237.40" width="36.50" height="37.20" fill="#050505"/>
<rect x="118.90" y="237.40" width="35.90" height="37.20" fill="#050505"/>
<rect x="157.70" y="237.40" width="37.30" height="37.20" fill="#050505"/>
<rect x="62.20" y="272.00" width="12.80" height="1.80" fill="#dcdcdc"/>
<g>
<ellipse cx="57.5" cy="177.0" rx="6.5" ry="7" fill="#2a5a26" opacity="0.2" filter="url(#tx)"/>
<ellipse cx="97.2" cy="177.5" rx="5.8" ry="6.4" fill="#ac1420" opacity="0.85" filter="url(#tx)"/>
<ellipse cx="132.4" cy="178.8" rx="5.2" ry="5.2" fill="#2a28ba" opacity="0.95" filter="url(#b1)"/>
<ellipse cx="140.7" cy="170.6" rx="2.6" ry="2.6" fill="#2a28ba" opacity="0.95" filter="url(#b1)"/>
<ellipse cx="125.0" cy="173.0" rx="4" ry="2.5" fill="#151560" opacity="0.55" filter="url(#b1)"/>
<ellipse cx="176.8" cy="177.8" rx="5.8" ry="6.4" fill="#ac1420" opacity="0.85" filter="url(#tx)"/>
<ellipse cx="170.0" cy="179.2" rx="4.4" ry="4.4" fill="#3a28ba" opacity="0.95" filter="url(#b1)"/>
<ellipse cx="179.6" cy="170.4" rx="2.6" ry="2.6" fill="#2a28ba" opacity="0.95" filter="url(#b1)"/>
<ellipse cx="163.5" cy="173.0" rx="4" ry="2.5" fill="#151560" opacity="0.55" filter="url(#b1)"/>
<ellipse cx="56.8" cy="213.5" rx="8.6" ry="9.0" fill="#1f8a32" opacity="0.75" filter="url(#tx2)"/>
<path d="M50.6 217.1A7.2 7.2 0 1 1 63.6 216.0" fill="none" stroke="#40d458" stroke-width="4.0" stroke-linecap="round" opacity="0.95" filter="url(#tx2)"/>
<ellipse cx="52.5" cy="214.0" rx="3" ry="6" fill="#30c848" opacity="0.8" filter="url(#tx2)"/>
<ellipse cx="60.5" cy="222.5" rx="4.5" ry="3.5" fill="#1f8030" opacity="0.7" filter="url(#tx2)"/>
<ellipse cx="97.2" cy="212.0" rx="8.2" ry="8.0" fill="#a81018" opacity="0.95" filter="url(#tx)"/>
<ellipse cx="97.2" cy="212.5" rx="7" ry="7.4" fill="#70101a" opacity="0.45" filter="url(#b1)"/>
<ellipse cx="98.0" cy="221.5" rx="6.5" ry="3.8" fill="#700c14" opacity="0.8" filter="url(#tx)"/>
<ellipse cx="137.4" cy="218.8" rx="6.4" ry="6.6" fill="#2a28b0" opacity="0.95" filter="url(#b1)"/>
<ellipse cx="137.4" cy="218.8" rx="5" ry="5" fill="#3a3ad0" opacity="0.5" filter="url(#tx)"/>
<ellipse cx="134.5" cy="234.0" rx="1.2" ry="1.2" fill="#2a2ad0" opacity="0.9" filter="url(#b05)"/>
<ellipse cx="174.5" cy="212.0" rx="8.6" ry="8.6" fill="#7a3a18" opacity="0.85" filter="url(#tx)"/>
<path d="M168.1 215.7A7.4 7.4 0 1 1 181.5 214.5" fill="none" stroke="#9ad02c" stroke-width="3.6" stroke-linecap="round" opacity="1" filter="url(#tx2)"/>
<ellipse cx="175.5" cy="211.0" rx="5" ry="4.6" fill="#b84a1a" opacity="0.8" filter="url(#tx)"/>
<ellipse cx="177.8" cy="220.6" rx="6.4" ry="6.2" fill="#3a30b4" opacity="0.98" filter="url(#b1)"/>
<ellipse cx="173.5" cy="234.0" rx="1.2" ry="1.2" fill="#2a2ad0" opacity="0.9" filter="url(#b05)"/>
<ellipse cx="56.5" cy="255.0" rx="6.5" ry="6.5" fill="#1e3a20" opacity="0.35" filter="url(#b2)"/>
<circle cx="96.6" cy="254.8" r="6.0" fill="none" stroke="#8a1018" stroke-width="3.2" opacity="0.42" filter="url(#tx)"/>
<ellipse cx="135.9" cy="253.2" rx="7.0" ry="6.0" fill="#2a28b0" opacity="0.95" filter="url(#b1)"/>
<ellipse cx="131.0" cy="249.0" rx="3" ry="2.5" fill="#20208a" opacity="0.6" filter="url(#b1)"/>
<circle cx="174" cy="254.5" r="7" fill="none" stroke="#7a1024" stroke-width="2.6" opacity="0.42" filter="url(#b1)"/>
<ellipse cx="173.3" cy="252.6" rx="6.8" ry="5.8" fill="#2e28b0" opacity="0.95" filter="url(#b1)"/>
</g>
<text x="96.90" y="153.50" font-size="7.3" text-anchor="middle" stroke="#000" stroke-width="0.08">CD41</text>
<text x="139.30" y="153.50" font-size="7.3" text-anchor="middle" stroke="#000" stroke-width="0.08">DAPI</text>
<text x="178.20" y="153.50" font-size="7.3" text-anchor="middle" stroke="#000" stroke-width="0.08">Merge</text>
<text x="43.00" y="153.60" font-size="7.3" text-anchor="start" stroke="#000" stroke-width="0.08">Annexin</text>
<text x="76.00" y="153.60" font-size="7.3" text-anchor="start" stroke="#000" stroke-width="0.08">V</text>
<text x="37.80" y="177.70" font-size="7.8" text-anchor="end" stroke="#000" stroke-width="0.12">WT</text>
<text x="37.80" y="218.20" font-size="7.8" text-anchor="end" stroke="#000" stroke-width="0.12">SMS1-KO</text>
<text x="37.80" y="258.30" font-size="7.8" text-anchor="end" stroke="#000" stroke-width="0.12">SMS2-KO</text>
<line x1="230.60" y1="167.85" x2="230.60" y2="264.10" stroke="#000" stroke-width="1.4"/>
<line x1="227.20" y1="263.40" x2="230.60" y2="263.40" stroke="#000" stroke-width="1.1"/>
<text x="0" y="0" font-size="7.7" text-anchor="end" transform="translate(226.30 266.20) scale(1.1200 1)" stroke="#000" stroke-width="0.12">0</text>
<line x1="227.20" y1="244.40" x2="230.60" y2="244.40" stroke="#000" stroke-width="1.1"/>
<text x="0" y="0" font-size="7.7" text-anchor="end" transform="translate(226.30 247.20) scale(1.1200 1)" stroke="#000" stroke-width="0.12">10</text>
<line x1="227.20" y1="225.40" x2="230.60" y2="225.40" stroke="#000" stroke-width="1.1"/>
<text x="0" y="0" font-size="7.7" text-anchor="end" transform="translate(226.30 228.20) scale(1.1200 1)" stroke="#000" stroke-width="0.12">20</text>
<line x1="227.20" y1="206.40" x2="230.60" y2="206.40" stroke="#000" stroke-width="1.1"/>
<text x="0" y="0" font-size="7.7" text-anchor="end" transform="translate(226.30 209.20) scale(1.1200 1)" stroke="#000" stroke-width="0.12">30</text>
<line x1="227.20" y1="187.40" x2="230.60" y2="187.40" stroke="#000" stroke-width="1.1"/>
<text x="0" y="0" font-size="7.7" text-anchor="end" transform="translate(226.30 190.20) scale(1.1200 1)" stroke="#000" stroke-width="0.12">40</text>
<line x1="227.20" y1="168.40" x2="230.60" y2="168.40" stroke="#000" stroke-width="1.1"/>
<text x="0" y="0" font-size="7.7" text-anchor="end" transform="translate(226.30 171.20) scale(1.1200 1)" stroke="#000" stroke-width="0.12">50</text>
<line x1="229.90" y1="263.40" x2="326.50" y2="263.40" stroke="#000" stroke-width="1.4"/>
<line x1="262.00" y1="263.40" x2="262.00" y2="266.80" stroke="#000" stroke-width="1.1"/>
<line x1="294.00" y1="263.40" x2="294.00" y2="266.80" stroke="#000" stroke-width="1.1"/>
<line x1="326.00" y1="263.40" x2="326.00" y2="266.80" stroke="#000" stroke-width="1.1"/>
<rect x="237.30" y="242.00" width="17.60" height="20.90" fill="#c41f35"/>
<rect x="269.10" y="185.80" width="17.80" height="77.10" fill="#0d518a"/>
<rect x="300.40" y="233.40" width="18.00" height="29.50" fill="#3bb44a"/>
<line x1="246.20" y1="239.80" x2="246.20" y2="242.00" stroke="#000" stroke-width="1.15"/>
<line x1="243.50" y1="239.80" x2="248.90" y2="239.80" stroke="#000" stroke-width="1.15"/>
<line x1="277.90" y1="181.00" x2="277.90" y2="190.10" stroke="#000" stroke-width="1.15"/>
<line x1="275.10" y1="181.00" x2="280.70" y2="181.00" stroke="#000" stroke-width="1.15"/>
<line x1="275.10" y1="190.10" x2="280.70" y2="190.10" stroke="#000" stroke-width="1.15"/>
<line x1="309.20" y1="228.20" x2="309.20" y2="239.00" stroke="#000" stroke-width="1.15"/>
<line x1="306.40" y1="228.20" x2="312.00" y2="228.20" stroke="#000" stroke-width="1.15"/>
<line x1="306.40" y1="239.00" x2="312.00" y2="239.00" stroke="#000" stroke-width="1.15"/>
<path d="M246.20 232.00V163.70H273.50V172.80" fill="none" stroke="#000" stroke-width="1.2"/>
<path d="M281.70 171.80V163.70H309.40V220.40" fill="none" stroke="#000" stroke-width="1.2"/>
<text x="260.70" y="163.48" font-size="8" text-anchor="middle" stroke="#000" stroke-width="0.35">**</text>
<text x="295.30" y="163.48" font-size="8" text-anchor="middle" stroke="#000" stroke-width="0.35">**</text>
<text x="0" y="0" font-size="8.3" text-anchor="middle" transform="translate(211.40 218.10) rotate(-90) scale(0.7512 1)" stroke="#000" stroke-width="0.25">PS externalization (AU)</text>
<text x="250.70" y="268.90" font-size="8.7" text-anchor="end" transform="rotate(-45 250.70 268.90)">WT</text>
<text x="282.20" y="268.40" font-size="8.7" text-anchor="end" transform="rotate(-45 282.20 268.40)">SMS1-KO</text>
<text x="313.70" y="268.40" font-size="8.7" text-anchor="end" transform="rotate(-45 313.70 268.40)">SMS2-KO</text>
<rect x="368.10" y="162.20" width="44.00" height="37.50" fill="#050505"/>
<rect x="415.10" y="162.20" width="44.00" height="37.50" fill="#050505"/>
<rect x="463.10" y="162.20" width="44.00" height="37.50" fill="#050505"/>
<rect x="368.10" y="202.40" width="44.00" height="37.50" fill="#050505"/>
<rect x="415.10" y="202.40" width="44.00" height="37.50" fill="#050505"/>
<rect x="463.10" y="202.40" width="44.00" height="37.50" fill="#050505"/>
<rect x="368.10" y="242.50" width="44.00" height="37.50" fill="#050505"/>
<rect x="415.10" y="242.50" width="44.00" height="37.50" fill="#050505"/>
<rect x="463.10" y="242.50" width="44.00" height="37.50" fill="#050505"/>
<g fill="#2aa838" filter="url(#b05)"><circle cx="375.3" cy="192.7" r="0.77" opacity="0.33"/><circle cx="389.9" cy="179.2" r="0.71" opacity="0.59"/><circle cx="373.7" cy="165.0" r="0.81" opacity="0.42"/><circle cx="400.7" cy="164.1" r="0.59" opacity="0.56"/><circle cx="379.1" cy="196.0" r="0.85" opacity="0.22"/><circle cx="370.9" cy="182.3" r="0.87" opacity="0.39"/><circle cx="378.6" cy="178.3" r="0.37" opacity="0.31"/><circle cx="387.6" cy="180.8" r="0.48" opacity="0.32"/><circle cx="378.7" cy="179.6" r="0.51" opacity="0.21"/><circle cx="403.8" cy="182.9" r="0.70" opacity="0.29"/><circle cx="410.0" cy="193.1" r="0.42" opacity="0.37"/><circle cx="399.1" cy="188.1" r="0.87" opacity="0.41"/><circle cx="403.5" cy="186.7" r="0.52" opacity="0.49"/><circle cx="405.6" cy="192.6" r="0.63" opacity="0.49"/><circle cx="371.3" cy="172.3" r="0.79" opacity="0.41"/><circle cx="376.9" cy="182.6" r="0.74" opacity="0.54"/><circle cx="385.0" cy="178.9" r="0.63" opacity="0.59"/><circle cx="390.9" cy="177.3" r="0.62" opacity="0.21"/><circle cx="371.6" cy="187.8" r="0.89" opacity="0.50"/><circle cx="385.8" cy="169.8" r="0.63" opacity="0.69"/><circle cx="401.1" cy="182.3" r="0.82" opacity="0.32"/><circle cx="390.7" cy="196.2" r="0.67" opacity="0.43"/><circle cx="380.8" cy="182.6" r="0.88" opacity="0.20"/><circle cx="401.6" cy="191.8" r="0.84" opacity="0.57"/><circle cx="402.6" cy="181.6" r="0.66" opacity="0.41"/><circle cx="372.1" cy="193.4" r="0.66" opacity="0.30"/><circle cx="390.3" cy="180.4" r="0.55" opacity="0.37"/><circle cx="391.7" cy="185.1" r="0.69" opacity="0.43"/><circle cx="371.0" cy="171.8" r="0.45" opacity="0.49"/><circle cx="404.7" cy="191.0" r="0.79" opacity="0.61"/><circle cx="380.2" cy="192.5" r="0.72" opacity="0.24"/><circle cx="370.5" cy="164.6" r="0.77" opacity="0.32"/><circle cx="374.3" cy="185.2" r="0.54" opacity="0.23"/><circle cx="376.3" cy="181.9" r="0.44" opacity="0.34"/><circle cx="398.7" cy="179.4" r="0.53" opacity="0.44"/><circle cx="370.8" cy="177.1" r="0.58" opacity="0.29"/><circle cx="374.3" cy="194.4" r="0.63" opacity="0.30"/><circle cx="394.4" cy="191.7" r="0.36" opacity="0.21"/><circle cx="375.8" cy="188.3" r="0.44" opacity="0.55"/><circle cx="397.3" cy="182.5" r="0.47" opacity="0.69"/><circle cx="402.2" cy="181.5" r="0.47" opacity="0.52"/><circle cx="385.8" cy="183.5" r="0.53" opacity="0.52"/><circle cx="372.2" cy="174.2" r="0.88" opacity="0.64"/><circle cx="382.3" cy="193.0" r="0.52" opacity="0.67"/><circle cx="400.0" cy="178.1" r="0.49" opacity="0.20"/><circle cx="405.4" cy="165.4" r="0.80" opacity="0.68"/><circle cx="392.9" cy="169.9" r="0.83" opacity="0.69"/><circle cx="398.4" cy="181.2" r="0.56" opacity="0.37"/><circle cx="378.2" cy="186.8" r="0.59" opacity="0.30"/><circle cx="374.1" cy="186.6" r="0.51" opacity="0.45"/><circle cx="383.0" cy="193.5" r="0.84" opacity="0.21"/><circle cx="378.0" cy="175.1" r="0.89" opacity="0.59"/><circle cx="383.6" cy="171.3" r="0.72" opacity="0.62"/><circle cx="407.6" cy="175.7" r="0.84" opacity="0.54"/><circle cx="389.5" cy="197.3" r="0.48" opacity="0.56"/><circle cx="373.3" cy="169.8" r="0.85" opacity="0.31"/><circle cx="400.6" cy="184.3" r="0.81" opacity="0.38"/><circle cx="383.6" cy="173.9" r="0.83" opacity="0.50"/><circle cx="408.5" cy="194.0" r="0.42" opacity="0.48"/><circle cx="374.1" cy="165.4" r="0.39" opacity="0.63"/><circle cx="401.8" cy="192.0" r="0.54" opacity="0.51"/><circle cx="401.5" cy="176.8" r="0.66" opacity="0.31"/><circle cx="373.2" cy="173.1" r="0.84" opacity="0.48"/><circle cx="407.3" cy="179.5" r="0.50" opacity="0.59"/><circle cx="403.4" cy="164.5" r="0.72" opacity="0.25"/><circle cx="374.5" cy="193.9" r="0.37" opacity="0.32"/><circle cx="409.9" cy="178.3" r="0.41" opacity="0.28"/><circle cx="379.6" cy="189.2" r="0.41" opacity="0.66"/><circle cx="385.2" cy="196.8" r="0.85" opacity="0.35"/><circle cx="380.1" cy="180.2" r="0.41" opacity="0.53"/></g>
<g fill="#e0141c" filter="url(#b05)"><circle cx="448.9" cy="196.6" r="0.37" opacity="0.45"/><circle cx="445.2" cy="191.4" r="0.62" opacity="0.57"/><circle cx="438.2" cy="188.2" r="0.58" opacity="0.49"/><circle cx="432.8" cy="183.0" r="0.64" opacity="0.95"/><circle cx="448.7" cy="186.7" r="0.53" opacity="0.55"/><circle cx="420.6" cy="174.1" r="0.54" opacity="0.58"/><circle cx="431.2" cy="195.2" r="0.56" opacity="0.71"/><circle cx="426.8" cy="174.0" r="0.48" opacity="0.48"/><circle cx="435.2" cy="197.8" r="0.62" opacity="0.50"/><circle cx="447.0" cy="192.9" r="0.64" opacity="0.90"/><circle cx="443.0" cy="192.7" r="0.49" opacity="0.94"/><circle cx="449.1" cy="177.4" r="0.65" opacity="0.79"/><circle cx="433.7" cy="186.4" r="0.55" opacity="0.91"/><circle cx="434.9" cy="193.7" r="0.49" opacity="0.89"/><circle cx="447.2" cy="184.7" r="0.58" opacity="0.91"/><circle cx="441.8" cy="185.3" r="0.44" opacity="0.58"/></g>
<g fill="#2aa838" filter="url(#b05)"><circle cx="470.3" cy="192.7" r="0.77" opacity="0.33"/><circle cx="484.9" cy="179.2" r="0.71" opacity="0.59"/><circle cx="468.7" cy="165.0" r="0.81" opacity="0.42"/><circle cx="495.7" cy="164.1" r="0.59" opacity="0.56"/><circle cx="474.1" cy="196.0" r="0.85" opacity="0.22"/><circle cx="465.9" cy="182.3" r="0.87" opacity="0.39"/><circle cx="473.6" cy="178.3" r="0.37" opacity="0.31"/><circle cx="482.6" cy="180.8" r="0.48" opacity="0.32"/><circle cx="473.7" cy="179.6" r="0.51" opacity="0.21"/><circle cx="498.8" cy="182.9" r="0.70" opacity="0.29"/><circle cx="505.0" cy="193.1" r="0.42" opacity="0.37"/><circle cx="494.1" cy="188.1" r="0.87" opacity="0.41"/><circle cx="498.5" cy="186.7" r="0.52" opacity="0.49"/><circle cx="500.6" cy="192.6" r="0.63" opacity="0.49"/><circle cx="466.3" cy="172.3" r="0.79" opacity="0.41"/><circle cx="471.9" cy="182.6" r="0.74" opacity="0.54"/><circle cx="480.0" cy="178.9" r="0.63" opacity="0.59"/><circle cx="485.9" cy="177.3" r="0.62" opacity="0.21"/><circle cx="466.6" cy="187.8" r="0.89" opacity="0.50"/><circle cx="480.8" cy="169.8" r="0.63" opacity="0.69"/><circle cx="496.1" cy="182.3" r="0.82" opacity="0.32"/><circle cx="485.7" cy="196.2" r="0.67" opacity="0.43"/><circle cx="475.8" cy="182.6" r="0.88" opacity="0.20"/><circle cx="496.6" cy="191.8" r="0.84" opacity="0.57"/><circle cx="497.6" cy="181.6" r="0.66" opacity="0.41"/><circle cx="467.1" cy="193.4" r="0.66" opacity="0.30"/><circle cx="485.3" cy="180.4" r="0.55" opacity="0.37"/><circle cx="486.7" cy="185.1" r="0.69" opacity="0.43"/><circle cx="466.0" cy="171.8" r="0.45" opacity="0.49"/><circle cx="499.7" cy="191.0" r="0.79" opacity="0.61"/><circle cx="475.2" cy="192.5" r="0.72" opacity="0.24"/><circle cx="465.5" cy="164.6" r="0.77" opacity="0.32"/><circle cx="469.3" cy="185.2" r="0.54" opacity="0.23"/><circle cx="471.3" cy="181.9" r="0.44" opacity="0.34"/><circle cx="493.7" cy="179.4" r="0.53" opacity="0.44"/><circle cx="465.8" cy="177.1" r="0.58" opacity="0.29"/><circle cx="469.3" cy="194.4" r="0.63" opacity="0.30"/><circle cx="489.4" cy="191.7" r="0.36" opacity="0.21"/><circle cx="470.8" cy="188.3" r="0.44" opacity="0.55"/><circle cx="492.3" cy="182.5" r="0.47" opacity="0.69"/><circle cx="497.2" cy="181.5" r="0.47" opacity="0.52"/><circle cx="480.8" cy="183.5" r="0.53" opacity="0.52"/><circle cx="467.2" cy="174.2" r="0.88" opacity="0.64"/><circle cx="477.3" cy="193.0" r="0.52" opacity="0.67"/><circle cx="495.0" cy="178.1" r="0.49" opacity="0.20"/><circle cx="500.4" cy="165.4" r="0.80" opacity="0.68"/><circle cx="487.9" cy="169.9" r="0.83" opacity="0.69"/><circle cx="493.4" cy="181.2" r="0.56" opacity="0.37"/><circle cx="473.2" cy="186.8" r="0.59" opacity="0.30"/><circle cx="469.1" cy="186.6" r="0.51" opacity="0.45"/><circle cx="478.0" cy="193.5" r="0.84" opacity="0.21"/><circle cx="473.0" cy="175.1" r="0.89" opacity="0.59"/><circle cx="478.6" cy="171.3" r="0.72" opacity="0.62"/><circle cx="502.6" cy="175.7" r="0.84" opacity="0.54"/><circle cx="484.5" cy="197.3" r="0.48" opacity="0.56"/><circle cx="468.3" cy="169.8" r="0.85" opacity="0.31"/><circle cx="495.6" cy="184.3" r="0.81" opacity="0.38"/><circle cx="478.6" cy="173.9" r="0.83" opacity="0.50"/><circle cx="503.5" cy="194.0" r="0.42" opacity="0.48"/><circle cx="469.1" cy="165.4" r="0.39" opacity="0.63"/><circle cx="496.8" cy="192.0" r="0.54" opacity="0.51"/><circle cx="496.5" cy="176.8" r="0.66" opacity="0.31"/><circle cx="468.2" cy="173.1" r="0.84" opacity="0.48"/><circle cx="502.3" cy="179.5" r="0.50" opacity="0.59"/><circle cx="498.4" cy="164.5" r="0.72" opacity="0.25"/><circle cx="469.5" cy="193.9" r="0.37" opacity="0.32"/><circle cx="504.9" cy="178.3" r="0.41" opacity="0.28"/><circle cx="474.6" cy="189.2" r="0.41" opacity="0.66"/><circle cx="480.2" cy="196.8" r="0.85" opacity="0.35"/><circle cx="475.1" cy="180.2" r="0.41" opacity="0.53"/></g>
<g fill="#e0141c" filter="url(#b05)"><circle cx="496.9" cy="196.6" r="0.37" opacity="0.45"/><circle cx="493.2" cy="191.4" r="0.62" opacity="0.57"/><circle cx="486.2" cy="188.2" r="0.58" opacity="0.49"/><circle cx="480.8" cy="183.0" r="0.64" opacity="0.95"/><circle cx="496.7" cy="186.7" r="0.53" opacity="0.55"/><circle cx="468.6" cy="174.1" r="0.54" opacity="0.58"/><circle cx="479.2" cy="195.2" r="0.56" opacity="0.71"/><circle cx="474.8" cy="174.0" r="0.48" opacity="0.48"/><circle cx="483.2" cy="197.8" r="0.62" opacity="0.50"/><circle cx="495.0" cy="192.9" r="0.64" opacity="0.90"/><circle cx="491.0" cy="192.7" r="0.49" opacity="0.94"/><circle cx="497.1" cy="177.4" r="0.65" opacity="0.79"/><circle cx="481.7" cy="186.4" r="0.55" opacity="0.91"/><circle cx="482.9" cy="193.7" r="0.49" opacity="0.89"/><circle cx="495.2" cy="184.7" r="0.58" opacity="0.91"/><circle cx="489.8" cy="185.3" r="0.44" opacity="0.58"/></g>
<rect x="368.1" y="202.4" width="44.0" height="37.5" fill="#0f2a10" opacity="0.4"/>
<rect x="463.1" y="202.4" width="44.0" height="37.5" fill="#141c08" opacity="0.45"/>
<g fill="#30c040" filter="url(#b05)"><circle cx="379.5" cy="222.6" r="0.55" opacity="0.61"/><circle cx="395.2" cy="206.5" r="0.36" opacity="0.75"/><circle cx="380.4" cy="212.2" r="0.90" opacity="0.53"/><circle cx="403.7" cy="220.4" r="0.70" opacity="0.34"/><circle cx="395.6" cy="233.6" r="0.64" opacity="0.69"/><circle cx="397.0" cy="206.4" r="0.77" opacity="0.60"/><circle cx="382.1" cy="205.3" r="0.83" opacity="0.53"/><circle cx="399.0" cy="233.9" r="0.74" opacity="0.80"/><circle cx="385.8" cy="231.3" r="0.59" opacity="0.81"/><circle cx="405.4" cy="207.6" r="0.42" opacity="0.38"/><circle cx="408.9" cy="219.0" r="0.69" opacity="0.43"/><circle cx="390.4" cy="217.3" r="0.54" opacity="0.60"/><circle cx="393.5" cy="234.8" r="0.73" opacity="0.81"/><circle cx="404.5" cy="237.7" r="0.72" opacity="0.35"/><circle cx="404.7" cy="236.8" r="0.85" opacity="0.59"/><circle cx="398.8" cy="211.4" r="0.81" opacity="0.59"/><circle cx="381.4" cy="206.4" r="0.82" opacity="0.84"/><circle cx="373.4" cy="231.3" r="0.58" opacity="0.34"/><circle cx="381.8" cy="230.2" r="0.83" opacity="0.28"/><circle cx="394.7" cy="205.8" r="0.75" opacity="0.45"/><circle cx="405.5" cy="237.4" r="0.63" opacity="0.85"/><circle cx="382.4" cy="206.9" r="0.68" opacity="0.27"/><circle cx="377.9" cy="218.0" r="0.69" opacity="0.34"/><circle cx="371.6" cy="233.6" r="0.52" opacity="0.83"/><circle cx="406.2" cy="217.0" r="0.60" opacity="0.56"/><circle cx="395.9" cy="224.4" r="0.66" opacity="0.62"/><circle cx="407.9" cy="221.4" r="0.59" opacity="0.68"/><circle cx="379.5" cy="214.4" r="0.89" opacity="0.56"/><circle cx="392.1" cy="204.7" r="0.58" opacity="0.60"/><circle cx="370.7" cy="225.1" r="0.70" opacity="0.29"/><circle cx="395.3" cy="220.0" r="0.72" opacity="0.46"/><circle cx="398.5" cy="229.2" r="0.36" opacity="0.29"/><circle cx="397.2" cy="236.8" r="0.49" opacity="0.52"/><circle cx="393.9" cy="215.1" r="0.55" opacity="0.44"/><circle cx="384.8" cy="224.4" r="0.52" opacity="0.48"/><circle cx="401.1" cy="205.2" r="0.66" opacity="0.69"/><circle cx="382.4" cy="211.8" r="0.79" opacity="0.39"/><circle cx="377.4" cy="219.0" r="0.73" opacity="0.31"/><circle cx="382.9" cy="215.5" r="0.81" opacity="0.51"/><circle cx="404.5" cy="210.0" r="0.54" opacity="0.64"/><circle cx="405.7" cy="219.5" r="0.47" opacity="0.32"/><circle cx="391.3" cy="210.7" r="0.79" opacity="0.75"/><circle cx="377.3" cy="213.7" r="0.79" opacity="0.64"/><circle cx="402.5" cy="215.9" r="0.42" opacity="0.43"/><circle cx="402.0" cy="213.4" r="0.54" opacity="0.50"/><circle cx="386.9" cy="218.1" r="0.86" opacity="0.34"/><circle cx="370.0" cy="236.1" r="0.83" opacity="0.84"/><circle cx="387.4" cy="236.3" r="0.86" opacity="0.38"/><circle cx="400.0" cy="232.5" r="0.71" opacity="0.56"/><circle cx="381.6" cy="215.8" r="0.48" opacity="0.29"/><circle cx="393.7" cy="214.0" r="0.80" opacity="0.28"/><circle cx="406.4" cy="227.7" r="0.86" opacity="0.79"/><circle cx="406.3" cy="223.7" r="0.36" opacity="0.70"/><circle cx="376.8" cy="214.4" r="0.71" opacity="0.56"/><circle cx="386.6" cy="236.0" r="0.69" opacity="0.45"/><circle cx="380.1" cy="233.4" r="0.61" opacity="0.72"/><circle cx="384.1" cy="210.9" r="0.64" opacity="0.74"/><circle cx="376.8" cy="231.0" r="0.86" opacity="0.73"/><circle cx="403.2" cy="204.5" r="0.70" opacity="0.77"/><circle cx="371.9" cy="213.4" r="0.50" opacity="0.57"/><circle cx="387.0" cy="220.2" r="0.78" opacity="0.25"/><circle cx="372.1" cy="208.6" r="0.42" opacity="0.29"/><circle cx="409.3" cy="233.1" r="0.40" opacity="0.55"/><circle cx="382.6" cy="214.9" r="0.54" opacity="0.64"/><circle cx="393.6" cy="216.5" r="0.46" opacity="0.45"/><circle cx="374.9" cy="223.0" r="0.74" opacity="0.48"/><circle cx="373.1" cy="210.3" r="0.56" opacity="0.61"/><circle cx="401.5" cy="217.1" r="0.79" opacity="0.62"/><circle cx="387.3" cy="216.8" r="0.62" opacity="0.67"/><circle cx="386.9" cy="227.7" r="0.60" opacity="0.40"/><circle cx="391.6" cy="227.7" r="0.39" opacity="0.50"/><circle cx="387.1" cy="234.0" r="0.87" opacity="0.47"/><circle cx="406.2" cy="231.0" r="0.49" opacity="0.53"/><circle cx="374.8" cy="231.7" r="0.71" opacity="0.78"/><circle cx="401.9" cy="226.8" r="0.75" opacity="0.59"/><circle cx="374.0" cy="224.1" r="0.35" opacity="0.34"/><circle cx="401.2" cy="205.8" r="0.40" opacity="0.31"/><circle cx="405.5" cy="210.3" r="0.36" opacity="0.75"/><circle cx="374.8" cy="232.8" r="0.72" opacity="0.75"/><circle cx="408.4" cy="223.8" r="0.79" opacity="0.27"/><circle cx="400.9" cy="221.5" r="0.74" opacity="0.31"/><circle cx="400.2" cy="235.8" r="0.38" opacity="0.44"/><circle cx="392.7" cy="232.2" r="0.48" opacity="0.36"/><circle cx="380.0" cy="225.1" r="0.76" opacity="0.49"/><circle cx="384.7" cy="217.7" r="0.54" opacity="0.50"/><circle cx="373.2" cy="221.2" r="0.89" opacity="0.50"/><circle cx="400.1" cy="209.7" r="0.73" opacity="0.70"/><circle cx="397.1" cy="221.7" r="0.62" opacity="0.64"/><circle cx="406.2" cy="209.3" r="0.40" opacity="0.70"/><circle cx="407.0" cy="221.7" r="0.59" opacity="0.68"/><circle cx="377.4" cy="213.3" r="0.46" opacity="0.60"/><circle cx="382.6" cy="212.1" r="0.73" opacity="0.82"/><circle cx="381.8" cy="228.1" r="0.58" opacity="0.76"/><circle cx="393.5" cy="213.3" r="0.47" opacity="0.26"/><circle cx="389.3" cy="217.2" r="0.44" opacity="0.47"/></g>
<g fill="#3ad850" filter="url(#b05)"><circle cx="394.5" cy="231.3" r="1.35" opacity="1.00"/><circle cx="396.3" cy="228.3" r="1.08" opacity="1.00"/><circle cx="393.6" cy="235.0" r="0.99" opacity="1.00"/><circle cx="385.7" cy="233.5" r="1.08" opacity="1.00"/><circle cx="388.3" cy="235.0" r="0.90" opacity="1.00"/><circle cx="383.9" cy="221.9" r="0.99" opacity="0.90"/><circle cx="386.6" cy="220.0" r="0.81" opacity="0.90"/><circle cx="390.1" cy="217.0" r="0.90" opacity="0.90"/><circle cx="380.4" cy="211.8" r="0.90" opacity="0.90"/><circle cx="398.9" cy="214.4" r="0.90" opacity="0.90"/><circle cx="405.9" cy="216.3" r="0.90" opacity="0.90"/><circle cx="373.8" cy="208.8" r="0.81" opacity="0.80"/><circle cx="402.4" cy="224.5" r="0.90" opacity="0.90"/><circle cx="391.9" cy="224.5" r="0.90" opacity="0.90"/><circle cx="378.2" cy="229.4" r="0.81" opacity="0.80"/></g>
<g fill="#ee1418" filter="url(#b05)"><circle cx="426.2" cy="207.8" r="0.62" opacity="0.49"/><circle cx="419.2" cy="218.1" r="0.90" opacity="0.88"/><circle cx="448.1" cy="211.9" r="0.70" opacity="0.57"/><circle cx="423.6" cy="207.9" r="0.52" opacity="0.96"/><circle cx="450.7" cy="232.1" r="0.84" opacity="0.52"/><circle cx="429.2" cy="225.9" r="0.80" opacity="0.91"/><circle cx="452.8" cy="207.3" r="0.73" opacity="0.80"/><circle cx="437.3" cy="210.4" r="0.66" opacity="0.45"/><circle cx="455.1" cy="234.1" r="0.70" opacity="0.58"/><circle cx="454.0" cy="224.0" r="0.89" opacity="0.91"/><circle cx="437.4" cy="218.6" r="0.73" opacity="0.66"/><circle cx="423.1" cy="214.8" r="0.85" opacity="0.43"/><circle cx="418.3" cy="225.9" r="0.55" opacity="0.72"/><circle cx="435.9" cy="216.1" r="0.95" opacity="0.52"/><circle cx="433.5" cy="211.3" r="0.75" opacity="0.57"/><circle cx="431.1" cy="230.0" r="0.58" opacity="0.74"/><circle cx="453.8" cy="207.8" r="0.43" opacity="0.54"/><circle cx="448.1" cy="225.5" r="0.53" opacity="0.60"/><circle cx="423.8" cy="220.1" r="0.42" opacity="0.82"/><circle cx="453.5" cy="237.2" r="0.80" opacity="0.98"/><circle cx="417.2" cy="214.2" r="0.93" opacity="0.87"/><circle cx="433.4" cy="236.8" r="0.74" opacity="0.89"/><circle cx="428.6" cy="210.9" r="0.64" opacity="0.48"/><circle cx="432.2" cy="237.5" r="0.58" opacity="0.41"/><circle cx="418.3" cy="210.1" r="0.83" opacity="0.62"/><circle cx="428.4" cy="207.6" r="0.94" opacity="0.65"/><circle cx="425.0" cy="206.3" r="0.43" opacity="0.50"/><circle cx="444.4" cy="209.4" r="0.42" opacity="0.69"/><circle cx="426.7" cy="238.7" r="0.47" opacity="0.72"/><circle cx="448.4" cy="218.4" r="0.94" opacity="0.69"/><circle cx="426.4" cy="218.4" r="0.42" opacity="0.65"/><circle cx="426.7" cy="235.0" r="0.86" opacity="0.70"/><circle cx="417.7" cy="213.1" r="0.53" opacity="0.52"/><circle cx="426.0" cy="234.3" r="0.48" opacity="0.43"/><circle cx="454.8" cy="223.8" r="0.94" opacity="0.64"/><circle cx="453.7" cy="226.8" r="0.83" opacity="0.85"/><circle cx="436.9" cy="207.5" r="0.52" opacity="0.92"/><circle cx="453.6" cy="236.2" r="0.59" opacity="0.79"/><circle cx="449.5" cy="226.4" r="0.85" opacity="0.72"/><circle cx="443.5" cy="227.9" r="0.55" opacity="0.95"/><circle cx="456.0" cy="206.8" r="0.93" opacity="0.98"/><circle cx="444.1" cy="205.8" r="0.89" opacity="0.48"/><circle cx="456.5" cy="227.3" r="0.43" opacity="0.50"/><circle cx="442.7" cy="223.9" r="0.81" opacity="0.96"/><circle cx="425.5" cy="204.4" r="0.91" opacity="0.41"/><circle cx="452.7" cy="208.3" r="0.85" opacity="0.87"/><circle cx="452.7" cy="223.3" r="0.88" opacity="0.52"/><circle cx="444.2" cy="215.7" r="0.89" opacity="0.86"/><circle cx="435.9" cy="222.4" r="0.41" opacity="0.42"/><circle cx="441.0" cy="221.1" r="0.88" opacity="0.76"/><circle cx="422.2" cy="216.8" r="0.82" opacity="0.71"/><circle cx="416.9" cy="233.2" r="0.86" opacity="0.45"/><circle cx="438.9" cy="217.4" r="0.83" opacity="0.59"/><circle cx="426.1" cy="221.1" r="0.93" opacity="0.46"/><circle cx="421.2" cy="225.7" r="0.89" opacity="0.71"/><circle cx="434.4" cy="233.9" r="0.83" opacity="0.44"/><circle cx="452.9" cy="211.0" r="0.57" opacity="0.90"/><circle cx="433.9" cy="231.8" r="0.49" opacity="0.92"/><circle cx="423.7" cy="209.4" r="0.67" opacity="0.60"/><circle cx="438.8" cy="235.5" r="0.79" opacity="0.40"/><circle cx="429.3" cy="223.1" r="0.67" opacity="0.83"/><circle cx="436.4" cy="206.9" r="0.53" opacity="0.91"/><circle cx="431.2" cy="230.7" r="0.94" opacity="0.78"/><circle cx="444.4" cy="225.3" r="0.57" opacity="0.95"/><circle cx="435.7" cy="235.7" r="0.57" opacity="0.92"/><circle cx="449.0" cy="225.4" r="0.64" opacity="0.48"/><circle cx="448.3" cy="216.8" r="0.76" opacity="0.48"/><circle cx="419.8" cy="209.2" r="0.84" opacity="0.51"/><circle cx="453.7" cy="217.1" r="0.72" opacity="0.61"/><circle cx="442.1" cy="207.5" r="0.62" opacity="0.96"/></g>
<g fill="#f41a1a" filter="url(#b05)"><circle cx="442.4" cy="232.4" r="1.50" opacity="1.00"/><circle cx="444.1" cy="229.4" r="1.20" opacity="1.00"/><circle cx="441.5" cy="236.2" r="1.10" opacity="1.00"/><circle cx="433.6" cy="234.7" r="1.20" opacity="1.00"/><circle cx="436.2" cy="236.2" r="1.00" opacity="1.00"/><circle cx="431.8" cy="223.0" r="1.10" opacity="0.90"/><circle cx="434.5" cy="221.2" r="0.90" opacity="0.90"/><circle cx="438.0" cy="218.2" r="1.00" opacity="0.90"/><circle cx="428.3" cy="212.9" r="1.00" opacity="0.90"/><circle cx="446.8" cy="215.5" r="1.00" opacity="0.90"/><circle cx="453.8" cy="217.4" r="1.00" opacity="0.90"/><circle cx="421.7" cy="209.9" r="0.90" opacity="0.80"/><circle cx="450.3" cy="225.7" r="1.00" opacity="0.90"/><circle cx="439.7" cy="225.7" r="1.00" opacity="0.90"/><circle cx="426.1" cy="230.5" r="0.90" opacity="0.80"/></g>
<g fill="#30c040" filter="url(#b05)"><circle cx="474.5" cy="222.6" r="0.55" opacity="0.34"/><circle cx="490.2" cy="206.5" r="0.36" opacity="0.41"/><circle cx="475.4" cy="212.2" r="0.90" opacity="0.29"/><circle cx="498.7" cy="220.4" r="0.70" opacity="0.19"/><circle cx="490.6" cy="233.6" r="0.64" opacity="0.38"/><circle cx="492.0" cy="206.4" r="0.77" opacity="0.33"/><circle cx="477.1" cy="205.3" r="0.83" opacity="0.29"/><circle cx="494.0" cy="233.9" r="0.74" opacity="0.44"/><circle cx="480.8" cy="231.3" r="0.59" opacity="0.45"/><circle cx="500.4" cy="207.6" r="0.42" opacity="0.21"/><circle cx="503.9" cy="219.0" r="0.69" opacity="0.24"/><circle cx="485.4" cy="217.3" r="0.54" opacity="0.33"/><circle cx="488.5" cy="234.8" r="0.73" opacity="0.44"/><circle cx="499.5" cy="237.7" r="0.72" opacity="0.19"/><circle cx="499.7" cy="236.8" r="0.85" opacity="0.33"/><circle cx="493.8" cy="211.4" r="0.81" opacity="0.33"/><circle cx="476.4" cy="206.4" r="0.82" opacity="0.46"/><circle cx="468.4" cy="231.3" r="0.58" opacity="0.19"/><circle cx="476.8" cy="230.2" r="0.83" opacity="0.15"/><circle cx="489.7" cy="205.8" r="0.75" opacity="0.25"/><circle cx="500.5" cy="237.4" r="0.63" opacity="0.47"/><circle cx="477.4" cy="206.9" r="0.68" opacity="0.15"/><circle cx="472.9" cy="218.0" r="0.69" opacity="0.19"/><circle cx="466.6" cy="233.6" r="0.52" opacity="0.45"/><circle cx="501.2" cy="217.0" r="0.60" opacity="0.31"/><circle cx="490.9" cy="224.4" r="0.66" opacity="0.34"/><circle cx="502.9" cy="221.4" r="0.59" opacity="0.38"/><circle cx="474.5" cy="214.4" r="0.89" opacity="0.31"/><circle cx="487.1" cy="204.7" r="0.58" opacity="0.33"/><circle cx="465.7" cy="225.1" r="0.70" opacity="0.16"/><circle cx="490.3" cy="220.0" r="0.72" opacity="0.25"/><circle cx="493.5" cy="229.2" r="0.36" opacity="0.16"/><circle cx="492.2" cy="236.8" r="0.49" opacity="0.29"/><circle cx="488.9" cy="215.1" r="0.55" opacity="0.24"/><circle cx="479.8" cy="224.4" r="0.52" opacity="0.26"/><circle cx="496.1" cy="205.2" r="0.66" opacity="0.38"/><circle cx="477.4" cy="211.8" r="0.79" opacity="0.22"/><circle cx="472.4" cy="219.0" r="0.73" opacity="0.17"/><circle cx="477.9" cy="215.5" r="0.81" opacity="0.28"/><circle cx="499.5" cy="210.0" r="0.54" opacity="0.35"/><circle cx="500.7" cy="219.5" r="0.47" opacity="0.18"/><circle cx="486.3" cy="210.7" r="0.79" opacity="0.41"/><circle cx="472.3" cy="213.7" r="0.79" opacity="0.35"/><circle cx="497.5" cy="215.9" r="0.42" opacity="0.23"/><circle cx="497.0" cy="213.4" r="0.54" opacity="0.28"/><circle cx="481.9" cy="218.1" r="0.86" opacity="0.19"/><circle cx="465.0" cy="236.1" r="0.83" opacity="0.46"/><circle cx="482.4" cy="236.3" r="0.86" opacity="0.21"/><circle cx="495.0" cy="232.5" r="0.71" opacity="0.31"/><circle cx="476.6" cy="215.8" r="0.48" opacity="0.16"/><circle cx="488.7" cy="214.0" r="0.80" opacity="0.15"/><circle cx="501.4" cy="227.7" r="0.86" opacity="0.43"/><circle cx="501.3" cy="223.7" r="0.36" opacity="0.38"/><circle cx="471.8" cy="214.4" r="0.71" opacity="0.31"/><circle cx="481.6" cy="236.0" r="0.69" opacity="0.25"/><circle cx="475.1" cy="233.4" r="0.61" opacity="0.40"/><circle cx="479.1" cy="210.9" r="0.64" opacity="0.41"/><circle cx="471.8" cy="231.0" r="0.86" opacity="0.40"/><circle cx="498.2" cy="204.5" r="0.70" opacity="0.42"/><circle cx="466.9" cy="213.4" r="0.50" opacity="0.31"/><circle cx="482.0" cy="220.2" r="0.78" opacity="0.14"/><circle cx="467.1" cy="208.6" r="0.42" opacity="0.16"/><circle cx="504.3" cy="233.1" r="0.40" opacity="0.30"/><circle cx="477.6" cy="214.9" r="0.54" opacity="0.35"/><circle cx="488.6" cy="216.5" r="0.46" opacity="0.25"/><circle cx="469.9" cy="223.0" r="0.74" opacity="0.26"/><circle cx="468.1" cy="210.3" r="0.56" opacity="0.34"/><circle cx="496.5" cy="217.1" r="0.79" opacity="0.34"/><circle cx="482.3" cy="216.8" r="0.62" opacity="0.37"/><circle cx="481.9" cy="227.7" r="0.60" opacity="0.22"/><circle cx="486.6" cy="227.7" r="0.39" opacity="0.28"/><circle cx="482.1" cy="234.0" r="0.87" opacity="0.26"/><circle cx="501.2" cy="231.0" r="0.49" opacity="0.29"/><circle cx="469.8" cy="231.7" r="0.71" opacity="0.43"/><circle cx="496.9" cy="226.8" r="0.75" opacity="0.32"/><circle cx="469.0" cy="224.1" r="0.35" opacity="0.18"/><circle cx="496.2" cy="205.8" r="0.40" opacity="0.17"/><circle cx="500.5" cy="210.3" r="0.36" opacity="0.42"/><circle cx="469.8" cy="232.8" r="0.72" opacity="0.41"/><circle cx="503.4" cy="223.8" r="0.79" opacity="0.15"/><circle cx="495.9" cy="221.5" r="0.74" opacity="0.17"/><circle cx="495.2" cy="235.8" r="0.38" opacity="0.24"/><circle cx="487.7" cy="232.2" r="0.48" opacity="0.20"/><circle cx="475.0" cy="225.1" r="0.76" opacity="0.27"/><circle cx="479.7" cy="217.7" r="0.54" opacity="0.28"/><circle cx="468.2" cy="221.2" r="0.89" opacity="0.27"/><circle cx="495.1" cy="209.7" r="0.73" opacity="0.39"/><circle cx="492.1" cy="221.7" r="0.62" opacity="0.35"/><circle cx="501.2" cy="209.3" r="0.40" opacity="0.38"/><circle cx="502.0" cy="221.7" r="0.59" opacity="0.37"/><circle cx="472.4" cy="213.3" r="0.46" opacity="0.33"/><circle cx="477.6" cy="212.1" r="0.73" opacity="0.45"/><circle cx="476.8" cy="228.1" r="0.58" opacity="0.42"/><circle cx="488.5" cy="213.3" r="0.47" opacity="0.15"/><circle cx="484.3" cy="217.2" r="0.44" opacity="0.26"/></g>
<g fill="#e88a10" filter="url(#b05)"><circle cx="474.2" cy="207.8" r="0.62" opacity="0.49"/><circle cx="467.2" cy="218.1" r="0.90" opacity="0.88"/><circle cx="496.1" cy="211.9" r="0.70" opacity="0.57"/><circle cx="471.6" cy="207.9" r="0.52" opacity="0.96"/><circle cx="498.7" cy="232.1" r="0.84" opacity="0.52"/><circle cx="477.2" cy="225.9" r="0.80" opacity="0.91"/><circle cx="500.8" cy="207.3" r="0.73" opacity="0.80"/><circle cx="485.3" cy="210.4" r="0.66" opacity="0.45"/><circle cx="503.1" cy="234.1" r="0.70" opacity="0.58"/><circle cx="502.0" cy="224.0" r="0.89" opacity="0.91"/><circle cx="485.4" cy="218.6" r="0.73" opacity="0.66"/><circle cx="471.1" cy="214.8" r="0.85" opacity="0.43"/><circle cx="466.3" cy="225.9" r="0.55" opacity="0.72"/><circle cx="483.9" cy="216.1" r="0.95" opacity="0.52"/><circle cx="481.5" cy="211.3" r="0.75" opacity="0.57"/><circle cx="479.1" cy="230.0" r="0.58" opacity="0.74"/><circle cx="501.8" cy="207.8" r="0.43" opacity="0.54"/><circle cx="496.1" cy="225.5" r="0.53" opacity="0.60"/><circle cx="471.8" cy="220.1" r="0.42" opacity="0.82"/><circle cx="501.5" cy="237.2" r="0.80" opacity="0.98"/><circle cx="465.2" cy="214.2" r="0.93" opacity="0.87"/><circle cx="481.4" cy="236.8" r="0.74" opacity="0.89"/><circle cx="476.6" cy="210.9" r="0.64" opacity="0.48"/><circle cx="480.2" cy="237.5" r="0.58" opacity="0.41"/><circle cx="466.3" cy="210.1" r="0.83" opacity="0.62"/><circle cx="476.4" cy="207.6" r="0.94" opacity="0.65"/><circle cx="473.0" cy="206.3" r="0.43" opacity="0.50"/><circle cx="492.4" cy="209.4" r="0.42" opacity="0.69"/><circle cx="474.7" cy="238.7" r="0.47" opacity="0.72"/><circle cx="496.4" cy="218.4" r="0.94" opacity="0.69"/><circle cx="474.4" cy="218.4" r="0.42" opacity="0.65"/><circle cx="474.7" cy="235.0" r="0.86" opacity="0.70"/><circle cx="465.7" cy="213.1" r="0.53" opacity="0.52"/><circle cx="474.0" cy="234.3" r="0.48" opacity="0.43"/><circle cx="502.8" cy="223.8" r="0.94" opacity="0.64"/><circle cx="501.7" cy="226.8" r="0.83" opacity="0.85"/><circle cx="484.9" cy="207.5" r="0.52" opacity="0.92"/><circle cx="501.6" cy="236.2" r="0.59" opacity="0.79"/><circle cx="497.5" cy="226.4" r="0.85" opacity="0.72"/><circle cx="491.5" cy="227.9" r="0.55" opacity="0.95"/><circle cx="504.0" cy="206.8" r="0.93" opacity="0.98"/><circle cx="492.1" cy="205.8" r="0.89" opacity="0.48"/><circle cx="504.5" cy="227.3" r="0.43" opacity="0.50"/><circle cx="490.7" cy="223.9" r="0.81" opacity="0.96"/><circle cx="473.5" cy="204.4" r="0.91" opacity="0.41"/><circle cx="500.7" cy="208.3" r="0.85" opacity="0.87"/><circle cx="500.7" cy="223.3" r="0.88" opacity="0.52"/><circle cx="492.2" cy="215.7" r="0.89" opacity="0.86"/><circle cx="483.9" cy="222.4" r="0.41" opacity="0.42"/><circle cx="489.0" cy="221.1" r="0.88" opacity="0.76"/><circle cx="470.2" cy="216.8" r="0.82" opacity="0.71"/><circle cx="464.9" cy="233.2" r="0.86" opacity="0.45"/><circle cx="486.9" cy="217.4" r="0.83" opacity="0.59"/><circle cx="474.1" cy="221.1" r="0.93" opacity="0.46"/><circle cx="469.2" cy="225.7" r="0.89" opacity="0.71"/><circle cx="482.4" cy="233.9" r="0.83" opacity="0.44"/><circle cx="500.9" cy="211.0" r="0.57" opacity="0.90"/><circle cx="481.9" cy="231.8" r="0.49" opacity="0.92"/><circle cx="471.7" cy="209.4" r="0.67" opacity="0.60"/><circle cx="486.8" cy="235.5" r="0.79" opacity="0.40"/><circle cx="477.3" cy="223.1" r="0.67" opacity="0.83"/><circle cx="484.4" cy="206.9" r="0.53" opacity="0.91"/><circle cx="479.2" cy="230.7" r="0.94" opacity="0.78"/><circle cx="492.4" cy="225.3" r="0.57" opacity="0.95"/><circle cx="483.7" cy="235.7" r="0.57" opacity="0.92"/><circle cx="497.0" cy="225.4" r="0.64" opacity="0.48"/><circle cx="496.3" cy="216.8" r="0.76" opacity="0.48"/><circle cx="467.8" cy="209.2" r="0.84" opacity="0.51"/><circle cx="501.7" cy="217.1" r="0.72" opacity="0.61"/><circle cx="490.1" cy="207.5" r="0.62" opacity="0.96"/></g>
<g fill="#f4b418" filter="url(#b05)"><circle cx="490.4" cy="232.4" r="1.50" opacity="1.00"/><circle cx="492.1" cy="229.4" r="1.20" opacity="1.00"/><circle cx="489.5" cy="236.2" r="1.10" opacity="1.00"/><circle cx="481.6" cy="234.7" r="1.20" opacity="1.00"/><circle cx="484.2" cy="236.2" r="1.00" opacity="1.00"/><circle cx="479.8" cy="223.0" r="1.10" opacity="0.90"/><circle cx="482.5" cy="221.2" r="0.90" opacity="0.90"/><circle cx="486.0" cy="218.2" r="1.00" opacity="0.90"/><circle cx="476.3" cy="212.9" r="1.00" opacity="0.90"/><circle cx="494.8" cy="215.5" r="1.00" opacity="0.90"/><circle cx="501.8" cy="217.4" r="1.00" opacity="0.90"/><circle cx="469.7" cy="209.9" r="0.90" opacity="0.80"/><circle cx="498.3" cy="225.7" r="1.00" opacity="0.90"/><circle cx="487.7" cy="225.7" r="1.00" opacity="0.90"/><circle cx="474.1" cy="230.5" r="0.90" opacity="0.80"/></g>
<g fill="#2ec040" filter="url(#b05)"><circle cx="395.1" cy="269.4" r="0.71" opacity="0.77"/><circle cx="399.8" cy="275.5" r="0.36" opacity="0.53"/><circle cx="408.0" cy="266.3" r="0.76" opacity="0.36"/><circle cx="388.8" cy="252.7" r="0.59" opacity="0.59"/><circle cx="370.4" cy="251.7" r="0.48" opacity="0.76"/><circle cx="400.9" cy="249.8" r="0.71" opacity="0.37"/><circle cx="394.9" cy="248.7" r="0.35" opacity="0.74"/><circle cx="378.3" cy="251.6" r="0.79" opacity="0.74"/><circle cx="381.6" cy="276.8" r="0.59" opacity="0.64"/><circle cx="378.1" cy="276.1" r="0.66" opacity="0.78"/><circle cx="406.0" cy="254.5" r="0.51" opacity="0.38"/><circle cx="375.8" cy="246.6" r="0.49" opacity="0.60"/><circle cx="370.0" cy="267.3" r="0.50" opacity="0.45"/><circle cx="403.0" cy="260.6" r="0.49" opacity="0.54"/><circle cx="398.4" cy="246.3" r="0.79" opacity="0.31"/><circle cx="400.2" cy="272.9" r="0.36" opacity="0.69"/><circle cx="384.7" cy="263.9" r="0.35" opacity="0.32"/><circle cx="377.2" cy="276.6" r="0.44" opacity="0.68"/><circle cx="407.5" cy="276.2" r="0.50" opacity="0.48"/><circle cx="391.1" cy="270.6" r="0.40" opacity="0.67"/><circle cx="402.1" cy="273.4" r="0.37" opacity="0.77"/><circle cx="373.6" cy="255.9" r="0.62" opacity="0.76"/><circle cx="394.9" cy="262.0" r="0.80" opacity="1.00"/><circle cx="393.0" cy="264.5" r="0.80" opacity="1.00"/><circle cx="390.0" cy="263.4" r="0.80" opacity="1.00"/><circle cx="390.4" cy="260.2" r="0.80" opacity="1.00"/><circle cx="393.5" cy="259.7" r="0.80" opacity="1.00"/><circle cx="404.2" cy="250.0" r="0.90" opacity="1.00"/><circle cx="405.9" cy="247.0" r="0.80" opacity="0.90"/><circle cx="402.4" cy="248.1" r="0.80" opacity="0.90"/><circle cx="372.5" cy="272.5" r="0.90" opacity="1.00"/></g>
<g fill="#e0141c" filter="url(#b05)"><circle cx="430.9" cy="261.2" r="1.00" opacity="1.00"/><circle cx="430.1" cy="256.0" r="0.70" opacity="0.80"/><circle cx="430.9" cy="251.9" r="0.60" opacity="0.60"/><circle cx="454.7" cy="253.0" r="0.70" opacity="0.50"/><circle cx="448.1" cy="253.8" r="0.60" opacity="0.40"/></g>
<g fill="#2ec040" filter="url(#b05)"><circle cx="490.1" cy="269.4" r="0.71" opacity="0.77"/><circle cx="494.8" cy="275.5" r="0.36" opacity="0.53"/><circle cx="503.0" cy="266.3" r="0.76" opacity="0.36"/><circle cx="483.8" cy="252.7" r="0.59" opacity="0.59"/><circle cx="465.4" cy="251.7" r="0.48" opacity="0.76"/><circle cx="495.9" cy="249.8" r="0.71" opacity="0.37"/><circle cx="489.9" cy="248.7" r="0.35" opacity="0.74"/><circle cx="473.3" cy="251.6" r="0.79" opacity="0.74"/><circle cx="476.6" cy="276.8" r="0.59" opacity="0.64"/><circle cx="473.1" cy="276.1" r="0.66" opacity="0.78"/><circle cx="501.0" cy="254.5" r="0.51" opacity="0.38"/><circle cx="470.8" cy="246.6" r="0.49" opacity="0.60"/><circle cx="465.0" cy="267.3" r="0.50" opacity="0.45"/><circle cx="498.0" cy="260.6" r="0.49" opacity="0.54"/><circle cx="493.4" cy="246.3" r="0.79" opacity="0.31"/><circle cx="495.2" cy="272.9" r="0.36" opacity="0.69"/><circle cx="479.7" cy="263.9" r="0.35" opacity="0.32"/><circle cx="472.2" cy="276.6" r="0.44" opacity="0.68"/><circle cx="502.5" cy="276.2" r="0.50" opacity="0.48"/><circle cx="486.1" cy="270.6" r="0.40" opacity="0.67"/><circle cx="497.1" cy="273.4" r="0.37" opacity="0.77"/><circle cx="468.6" cy="255.9" r="0.62" opacity="0.76"/><circle cx="489.9" cy="262.0" r="0.80" opacity="1.00"/><circle cx="488.0" cy="264.5" r="0.80" opacity="1.00"/><circle cx="485.0" cy="263.4" r="0.80" opacity="1.00"/><circle cx="485.4" cy="260.2" r="0.80" opacity="1.00"/><circle cx="488.5" cy="259.7" r="0.80" opacity="1.00"/><circle cx="499.2" cy="250.0" r="0.90" opacity="1.00"/><circle cx="500.9" cy="247.0" r="0.80" opacity="0.90"/><circle cx="497.4" cy="248.1" r="0.80" opacity="0.90"/><circle cx="467.5" cy="272.5" r="0.90" opacity="1.00"/></g>
<g fill="#e0141c" filter="url(#b05)"><circle cx="478.9" cy="261.2" r="1.00" opacity="1.00"/><circle cx="478.1" cy="256.0" r="0.70" opacity="0.80"/><circle cx="478.9" cy="251.9" r="0.60" opacity="0.60"/><circle cx="502.7" cy="253.0" r="0.70" opacity="0.50"/><circle cx="496.1" cy="253.8" r="0.60" opacity="0.40"/></g>
<rect x="401.70" y="196.00" width="9.00" height="1.45" fill="#f4f4f4"/>
<rect x="401.70" y="236.00" width="9.00" height="1.45" fill="#f4f4f4"/>
<rect x="401.70" y="276.00" width="9.00" height="1.45" fill="#f4f4f4"/>
<text x="391.60" y="158.00" font-size="7.3" text-anchor="middle" stroke="#000" stroke-width="0.08">CD68</text>
<text x="436.40" y="158.00" font-size="7.3" text-anchor="middle" stroke="#000" stroke-width="0.08">CD41</text>
<text x="484.20" y="158.00" font-size="7.3" text-anchor="middle" stroke="#000" stroke-width="0.08">Merge</text>
<text x="366.40" y="183.40" font-size="7.8" text-anchor="end" stroke="#000" stroke-width="0.12">WT</text>
<text x="367.00" y="221.20" font-size="7.8" text-anchor="end" stroke="#000" stroke-width="0.12">SMS1-KO</text>
<text x="367.00" y="259.90" font-size="7.8" text-anchor="end" stroke="#000" stroke-width="0.12">SMS2-KO</text>
<line x1="46.00" y1="333.95" x2="46.00" y2="429.30" stroke="#000" stroke-width="1.4"/>
<line x1="42.20" y1="428.60" x2="46.00" y2="428.60" stroke="#000" stroke-width="1.1"/>
<text x="0" y="0" font-size="7.7" text-anchor="end" transform="translate(40.40 431.40) scale(1.1200 1)" stroke="#000" stroke-width="0.12">0</text>
<line x1="42.20" y1="409.78" x2="46.00" y2="409.78" stroke="#000" stroke-width="1.1"/>
<text x="0" y="0" font-size="7.7" text-anchor="end" transform="translate(40.40 412.58) scale(1.1200 1)" stroke="#000" stroke-width="0.12">50</text>
<line x1="42.20" y1="390.96" x2="46.00" y2="390.96" stroke="#000" stroke-width="1.1"/>
<text x="0" y="0" font-size="7.7" text-anchor="end" transform="translate(40.40 393.76) scale(1.1200 1)" stroke="#000" stroke-width="0.12">100</text>
<line x1="42.20" y1="372.14" x2="46.00" y2="372.14" stroke="#000" stroke-width="1.1"/>
<text x="0" y="0" font-size="7.7" text-anchor="end" transform="translate(40.40 374.94) scale(1.1200 1)" stroke="#000" stroke-width="0.12">150</text>
<line x1="42.20" y1="353.32" x2="46.00" y2="353.32" stroke="#000" stroke-width="1.1"/>
<text x="0" y="0" font-size="7.7" text-anchor="end" transform="translate(40.40 356.12) scale(1.1200 1)" stroke="#000" stroke-width="0.12">200</text>
<line x1="42.20" y1="334.50" x2="46.00" y2="334.50" stroke="#000" stroke-width="1.1"/>
<text x="0" y="0" font-size="7.7" text-anchor="end" transform="translate(40.40 337.30) scale(1.1200 1)" stroke="#000" stroke-width="0.12">250</text>
<line x1="45.30" y1="428.60" x2="198.50" y2="428.60" stroke="#000" stroke-width="1.4"/>
<line x1="46.00" y1="428.60" x2="46.00" y2="432.00" stroke="#000" stroke-width="1.1"/>
<line x1="122.00" y1="428.60" x2="122.00" y2="432.00" stroke="#000" stroke-width="1.1"/>
<line x1="198.00" y1="428.60" x2="198.00" y2="432.00" stroke="#000" stroke-width="1.1"/>
<rect x="54.00" y="392.60" width="18.40" height="35.50" fill="#c41f35"/>
<line x1="63.20" y1="385.80" x2="63.20" y2="392.60" stroke="#000" stroke-width="1.15"/>
<line x1="60.80" y1="385.80" x2="65.60" y2="385.80" stroke="#000" stroke-width="1.15"/>
<rect x="75.00" y="381.00" width="18.40" height="47.10" fill="#c41f35"/>
<line x1="84.20" y1="375.80" x2="84.20" y2="381.00" stroke="#000" stroke-width="1.15"/>
<line x1="81.80" y1="375.80" x2="86.60" y2="375.80" stroke="#000" stroke-width="1.15"/>
<rect x="96.00" y="361.80" width="18.00" height="66.30" fill="#c41f35"/>
<line x1="105.00" y1="351.30" x2="105.00" y2="361.80" stroke="#000" stroke-width="1.15"/>
<line x1="102.60" y1="351.30" x2="107.40" y2="351.30" stroke="#000" stroke-width="1.15"/>
<rect x="130.50" y="412.40" width="18.40" height="15.70" fill="#0d518a"/>
<line x1="139.70" y1="408.50" x2="139.70" y2="415.00" stroke="#000" stroke-width="1.15"/>
<line x1="137.30" y1="408.50" x2="142.10" y2="408.50" stroke="#000" stroke-width="1.15"/>
<line x1="137.30" y1="415.00" x2="142.10" y2="415.00" stroke="#000" stroke-width="1.15"/>
<rect x="151.20" y="408.50" width="18.50" height="19.60" fill="#0d518a"/>
<line x1="160.45" y1="404.70" x2="160.45" y2="412.20" stroke="#000" stroke-width="1.15"/>
<line x1="158.05" y1="404.70" x2="162.85" y2="404.70" stroke="#000" stroke-width="1.15"/>
<line x1="158.05" y1="412.20" x2="162.85" y2="412.20" stroke="#000" stroke-width="1.15"/>
<rect x="172.00" y="396.80" width="18.80" height="31.30" fill="#0d518a"/>
<line x1="181.40" y1="393.20" x2="181.40" y2="400.40" stroke="#000" stroke-width="1.15"/>
<line x1="179.00" y1="393.20" x2="183.80" y2="393.20" stroke="#000" stroke-width="1.15"/>
<line x1="179.00" y1="400.40" x2="183.80" y2="400.40" stroke="#000" stroke-width="1.15"/>
<text x="0" y="0" font-size="8.0" text-anchor="middle" transform="translate(63.20 438.10) scale(1.1200 1)" stroke="#000" stroke-width="0.12">0</text>
<text x="0" y="0" font-size="8.0" text-anchor="middle" transform="translate(84.20 438.10) scale(1.1200 1)" stroke="#000" stroke-width="0.12">2</text>
<text x="0" y="0" font-size="8.0" text-anchor="middle" transform="translate(105.20 438.10) scale(1.1200 1)" stroke="#000" stroke-width="0.12">4</text>
<text x="0" y="0" font-size="8.0" text-anchor="middle" transform="translate(139.70 438.10) scale(1.1200 1)" stroke="#000" stroke-width="0.12">0</text>
<text x="0" y="0" font-size="8.0" text-anchor="middle" transform="translate(161.00 438.10) scale(1.1200 1)" stroke="#000" stroke-width="0.12">2</text>
<text x="0" y="0" font-size="8.0" text-anchor="middle" transform="translate(182.20 438.10) scale(1.1200 1)" stroke="#000" stroke-width="0.12">4</text>
<text x="0" y="0" font-size="8.9" text-anchor="middle" transform="translate(122.50 451.10) scale(0.7098 1)" stroke="#000" stroke-width="0.3">Days after splenectomy</text>
<path d="M62.00 321.30V315.40H161.30V321.30" fill="none" stroke="#000" stroke-width="1.2"/>
<path d="M62.00 332.60V326.50H140.50V332.60" fill="none" stroke="#000" stroke-width="1.2"/>
<path d="M62.00 345.00V338.80H105.50V345.00" fill="none" stroke="#000" stroke-width="1.2"/>
<text x="112.00" y="313.18" font-size="8" text-anchor="middle" stroke="#000" stroke-width="0.35">*</text>
<text x="100.50" y="324.98" font-size="8" text-anchor="middle" stroke="#000" stroke-width="0.35">**</text>
<text x="84.30" y="336.28" font-size="8" text-anchor="middle" stroke="#000" stroke-width="0.35">*</text>
<path d="M139.70 386.20V380.00H181.50V386.20" fill="none" stroke="#000" stroke-width="1.2"/>
<path d="M139.70 398.50V392.40H160.80V398.50" fill="none" stroke="#000" stroke-width="1.2"/>
<text x="160.80" y="378.18" font-size="8" text-anchor="middle" stroke="#000" stroke-width="0.35">**</text>
<text x="150.80" y="391.68" font-size="8" text-anchor="middle" stroke="#000" stroke-width="0.35">*</text>
<rect x="181.10" y="333.10" width="11.00" height="9.80" fill="#c41f35"/>
<rect x="181.10" y="345.20" width="11.00" height="10.10" fill="#0d518a"/>
<text x="194.80" y="340.60" font-size="9.2" text-anchor="start" stroke="#000" stroke-width="0.15">WT</text>
<text x="194.80" y="352.90" font-size="9.2" text-anchor="start" stroke="#000" stroke-width="0.15">SMS1-KO</text>
<text x="0" y="0" font-size="8.2" text-anchor="middle" transform="translate(11.80 380.50) rotate(-90) scale(0.7678 1)" stroke="#000" stroke-width="0.25">Platelet</text>
<text transform="translate(22.3 380.3) rotate(-90) scale(0.8000 1)" font-size="8.2" text-anchor="middle" stroke="#000" stroke-width="0.25">(10<tspan font-size="4.6" dy="-3">6</tspan><tspan dy="3"> cells/ml)</tspan></text>
<line x1="293.80" y1="372.90" x2="377.70" y2="372.90" stroke="#969696" stroke-width="0.6" stroke-dasharray="0.8 0.8"/>
<line x1="326.40" y1="372.40" x2="326.40" y2="446.00" stroke="#969696" stroke-width="0.6" stroke-dasharray="0.8 0.8"/>
<line x1="377.70" y1="372.40" x2="377.70" y2="446.00" stroke="#969696" stroke-width="0.6" stroke-dasharray="0.8 0.8"/>
<path d="M326.4 451.5L323.8 445.8H329.0Z" fill="#b4b4b4" stroke="none" stroke-width="1"/>
<path d="M377.7 451.5L375.1 445.8H380.3Z" fill="#b4b4b4" stroke="none" stroke-width="1"/>
<line x1="326.75" y1="339.20" x2="326.75" y2="347.80" stroke="#000" stroke-width="1.15"/>
<line x1="324.35" y1="339.20" x2="329.15" y2="339.20" stroke="#000" stroke-width="1.15"/>
<line x1="324.35" y1="347.80" x2="329.15" y2="347.80" stroke="#000" stroke-width="1.15"/>
<line x1="360.25" y1="351.80" x2="360.25" y2="366.20" stroke="#000" stroke-width="1.15"/>
<line x1="357.85" y1="351.80" x2="362.65" y2="351.80" stroke="#000" stroke-width="1.15"/>
<line x1="357.85" y1="366.20" x2="362.65" y2="366.20" stroke="#000" stroke-width="1.15"/>
<line x1="393.75" y1="375.50" x2="393.75" y2="392.20" stroke="#000" stroke-width="1.15"/>
<line x1="391.35" y1="375.50" x2="396.15" y2="375.50" stroke="#000" stroke-width="1.15"/>
<line x1="391.35" y1="392.20" x2="396.15" y2="392.20" stroke="#000" stroke-width="1.15"/>
<line x1="427.25" y1="389.40" x2="427.25" y2="408.40" stroke="#000" stroke-width="1.15"/>
<line x1="424.85" y1="389.40" x2="429.65" y2="389.40" stroke="#000" stroke-width="1.15"/>
<line x1="424.85" y1="408.40" x2="429.65" y2="408.40" stroke="#000" stroke-width="1.15"/>
<line x1="326.75" y1="369.20" x2="326.75" y2="378.00" stroke="#000" stroke-width="1.15"/>
<line x1="324.35" y1="369.20" x2="329.15" y2="369.20" stroke="#000" stroke-width="1.15"/>
<line x1="324.35" y1="378.00" x2="329.15" y2="378.00" stroke="#000" stroke-width="1.15"/>
<path d="M293.25 319.80L326.75 343.30L360.25 359.00L393.75 384.10L427.25 399.20" fill="none" stroke="#c41f35" stroke-width="1.2"/>
<path d="M293.25 319.80L326.75 373.50L360.25 400.00L393.75 415.10L427.25 423.00" fill="none" stroke="#0d518a" stroke-width="1.2"/>
<circle cx="293.25" cy="319.80" r="2.5" fill="#c41f35"/>
<circle cx="326.75" cy="343.30" r="2.5" fill="#c41f35"/>
<circle cx="360.25" cy="359.00" r="2.5" fill="#c41f35"/>
<circle cx="393.75" cy="384.10" r="2.5" fill="#c41f35"/>
<circle cx="427.25" cy="399.20" r="2.5" fill="#c41f35"/>
<rect x="290.65" y="317.20" width="5.20" height="5.20" fill="#0d518a"/>
<rect x="324.15" y="370.90" width="5.20" height="5.20" fill="#0d518a"/>
<rect x="357.65" y="397.40" width="5.20" height="5.20" fill="#0d518a"/>
<rect x="391.15" y="412.50" width="5.20" height="5.20" fill="#0d518a"/>
<rect x="424.65" y="420.40" width="5.20" height="5.20" fill="#0d518a"/>
<line x1="293.80" y1="313.95" x2="293.80" y2="425.70" stroke="#000" stroke-width="1.15"/>
<line x1="290.60" y1="425.00" x2="293.80" y2="425.00" stroke="#000" stroke-width="1.0"/>
<text x="0" y="0" font-size="7.5" text-anchor="end" transform="translate(288.90 427.80) scale(1.0600 1)" stroke="#000" stroke-width="0.12">0</text>
<line x1="290.60" y1="398.70" x2="293.80" y2="398.70" stroke="#000" stroke-width="1.0"/>
<text x="0" y="0" font-size="7.5" text-anchor="end" transform="translate(288.90 401.50) scale(1.0600 1)" stroke="#000" stroke-width="0.12">25</text>
<line x1="290.60" y1="372.40" x2="293.80" y2="372.40" stroke="#000" stroke-width="1.0"/>
<text x="0" y="0" font-size="7.5" text-anchor="end" transform="translate(288.90 375.20) scale(1.0600 1)" stroke="#000" stroke-width="0.12">50</text>
<line x1="290.60" y1="346.10" x2="293.80" y2="346.10" stroke="#000" stroke-width="1.0"/>
<text x="0" y="0" font-size="7.5" text-anchor="end" transform="translate(288.90 348.90) scale(1.0600 1)" stroke="#000" stroke-width="0.12">75</text>
<line x1="290.60" y1="319.80" x2="293.80" y2="319.80" stroke="#000" stroke-width="1.0"/>
<text x="0" y="0" font-size="7.5" text-anchor="end" transform="translate(288.90 322.60) scale(1.0600 1)" stroke="#000" stroke-width="0.12">100</text>
<line x1="293.20" y1="424.60" x2="431.50" y2="424.60" stroke="#000" stroke-width="1.2"/>
<line x1="293.25" y1="425.00" x2="293.25" y2="428.30" stroke="#000" stroke-width="1.0"/>
<text x="0" y="0" font-size="7.5" text-anchor="middle" transform="translate(293.25 436.30) scale(1.0700 1)" stroke="#000" stroke-width="0.12">0</text>
<line x1="326.75" y1="425.00" x2="326.75" y2="428.30" stroke="#000" stroke-width="1.0"/>
<text x="0" y="0" font-size="7.5" text-anchor="middle" transform="translate(326.75 436.30) scale(1.0700 1)" stroke="#000" stroke-width="0.12">24</text>
<line x1="360.25" y1="425.00" x2="360.25" y2="428.30" stroke="#000" stroke-width="1.0"/>
<text x="0" y="0" font-size="7.5" text-anchor="middle" transform="translate(360.25 436.30) scale(1.0700 1)" stroke="#000" stroke-width="0.12">48</text>
<line x1="393.75" y1="425.00" x2="393.75" y2="428.30" stroke="#000" stroke-width="1.0"/>
<text x="0" y="0" font-size="7.5" text-anchor="middle" transform="translate(393.75 436.30) scale(1.0700 1)" stroke="#000" stroke-width="0.12">72</text>
<line x1="427.25" y1="425.00" x2="427.25" y2="428.30" stroke="#000" stroke-width="1.0"/>
<text x="0" y="0" font-size="7.5" text-anchor="middle" transform="translate(427.25 436.30) scale(1.0700 1)" stroke="#000" stroke-width="0.12">96</text>
<text x="326.75" y="366.60" font-size="6" text-anchor="middle" stroke="#000" stroke-width="0.3">**</text>
<text x="360.25" y="394.60" font-size="6" text-anchor="middle" stroke="#000" stroke-width="0.3">**</text>
<text x="393.75" y="409.80" font-size="6" text-anchor="middle" stroke="#000" stroke-width="0.3">**</text>
<text x="427.25" y="417.80" font-size="6" text-anchor="middle" stroke="#000" stroke-width="0.3">**</text>
<line x1="392.20" y1="335.80" x2="409.80" y2="335.80" stroke="#000" stroke-width="1.15"/>
<circle cx="401.4" cy="335.8" r="3.5" fill="#c41f35"/>
<line x1="392.20" y1="347.50" x2="409.80" y2="347.50" stroke="#000" stroke-width="1.15"/>
<rect x="397.80" y="343.90" width="7.30" height="7.20" fill="#0d518a"/>
<text x="413.00" y="338.70" font-size="8.3" text-anchor="start" stroke="#000" stroke-width="0.12">WT</text>
<text x="413.00" y="350.30" font-size="8.3" text-anchor="start" stroke="#000" stroke-width="0.12">SMS1-KO</text>
<text x="401.60" y="450.00" font-size="7.8" text-anchor="start">Time (h)</text>
<text x="299.30" y="461.70" font-size="8.2" text-anchor="start">t<tspan font-size="4.8" dy="1.6">1/2</tspan><tspan dy="-1.6">(h) 23</tspan></text>
<text x="373.00" y="461.70" font-size="8.2" text-anchor="start">62</text>
<text x="0" y="0" font-size="8.2" text-anchor="middle" transform="translate(260.60 374.00) rotate(-90) scale(0.8177 1)" stroke="#000" stroke-width="0.25">Biotinylated platelets</text>
<text x="0" y="0" font-size="8.2" text-anchor="middle" transform="translate(271.80 374.20) rotate(-90) scale(0.7685 1)" stroke="#000" stroke-width="0.25">(%)</text>
<rect x="147.20" y="486.20" width="94.80" height="93.40" fill="#fff" stroke="#000" stroke-width="1.3"/>
<line x1="145.00" y1="579.60" x2="147.20" y2="579.60" stroke="#000" stroke-width="0.8"/>
<text x="144.00" y="582.05" font-size="6.9" text-anchor="end">0</text>
<line x1="145.00" y1="562.08" x2="147.20" y2="562.08" stroke="#000" stroke-width="0.8"/>
<text x="144.00" y="564.53" font-size="6.9" text-anchor="end">50</text>
<line x1="145.00" y1="544.56" x2="147.20" y2="544.56" stroke="#000" stroke-width="0.8"/>
<text x="144.00" y="547.01" font-size="6.9" text-anchor="end">100</text>
<line x1="145.00" y1="527.04" x2="147.20" y2="527.04" stroke="#000" stroke-width="0.8"/>
<text x="144.00" y="529.49" font-size="6.9" text-anchor="end">150</text>
<line x1="145.00" y1="509.52" x2="147.20" y2="509.52" stroke="#000" stroke-width="0.8"/>
<text x="144.00" y="511.97" font-size="6.9" text-anchor="end">200</text>
<line x1="145.00" y1="492.00" x2="147.20" y2="492.00" stroke="#000" stroke-width="0.8"/>
<text x="144.00" y="494.45" font-size="6.9" text-anchor="end">250</text>
<line x1="146.00" y1="579.60" x2="147.20" y2="579.60" stroke="#000" stroke-width="0.5"/>
<line x1="146.00" y1="576.10" x2="147.20" y2="576.10" stroke="#000" stroke-width="0.5"/>
<line x1="146.00" y1="572.59" x2="147.20" y2="572.59" stroke="#000" stroke-width="0.5"/>
<line x1="146.00" y1="569.09" x2="147.20" y2="569.09" stroke="#000" stroke-width="0.5"/>
<line x1="146.00" y1="565.58" x2="147.20" y2="565.58" stroke="#000" stroke-width="0.5"/>
<line x1="146.00" y1="562.08" x2="147.20" y2="562.08" stroke="#000" stroke-width="0.5"/>
<line x1="146.00" y1="558.58" x2="147.20" y2="558.58" stroke="#000" stroke-width="0.5"/>
<line x1="146.00" y1="555.07" x2="147.20" y2="555.07" stroke="#000" stroke-width="0.5"/>
<line x1="146.00" y1="551.57" x2="147.20" y2="551.57" stroke="#000" stroke-width="0.5"/>
<line x1="146.00" y1="548.06" x2="147.20" y2="548.06" stroke="#000" stroke-width="0.5"/>
<line x1="146.00" y1="544.56" x2="147.20" y2="544.56" stroke="#000" stroke-width="0.5"/>
<line x1="146.00" y1="541.06" x2="147.20" y2="541.06" stroke="#000" stroke-width="0.5"/>
<line x1="146.00" y1="537.55" x2="147.20" y2="537.55" stroke="#000" stroke-width="0.5"/>
<line x1="146.00" y1="534.05" x2="147.20" y2="534.05" stroke="#000" stroke-width="0.5"/>
<line x1="146.00" y1="530.54" x2="147.20" y2="530.54" stroke="#000" stroke-width="0.5"/>
<line x1="146.00" y1="527.04" x2="147.20" y2="527.04" stroke="#000" stroke-width="0.5"/>
<line x1="146.00" y1="523.54" x2="147.20" y2="523.54" stroke="#000" stroke-width="0.5"/>
<line x1="146.00" y1="520.03" x2="147.20" y2="520.03" stroke="#000" stroke-width="0.5"/>
<line x1="146.00" y1="516.53" x2="147.20" y2="516.53" stroke="#000" stroke-width="0.5"/>
<line x1="146.00" y1="513.02" x2="147.20" y2="513.02" stroke="#000" stroke-width="0.5"/>
<line x1="146.00" y1="509.52" x2="147.20" y2="509.52" stroke="#000" stroke-width="0.5"/>
<line x1="146.00" y1="506.02" x2="147.20" y2="506.02" stroke="#000" stroke-width="0.5"/>
<line x1="146.00" y1="502.51" x2="147.20" y2="502.51" stroke="#000" stroke-width="0.5"/>
<line x1="146.00" y1="499.01" x2="147.20" y2="499.01" stroke="#000" stroke-width="0.5"/>
<line x1="146.00" y1="495.50" x2="147.20" y2="495.50" stroke="#000" stroke-width="0.5"/>
<line x1="146.00" y1="492.00" x2="147.20" y2="492.00" stroke="#000" stroke-width="0.5"/>
<text x="169.70" y="586.80" font-size="5.4" text-anchor="middle">10</text>
<text x="173.30" y="584.40" font-size="3.2" text-anchor="middle">1</text>
<text x="192.80" y="586.80" font-size="5.4" text-anchor="middle">10</text>
<text x="196.40" y="584.40" font-size="3.2" text-anchor="middle">2</text>
<text x="216.00" y="586.80" font-size="5.4" text-anchor="middle">10</text>
<text x="219.60" y="584.40" font-size="3.2" text-anchor="middle">3</text>
<text x="239.00" y="586.80" font-size="5.4" text-anchor="middle">10</text>
<text x="242.60" y="584.40" font-size="3.2" text-anchor="middle">4</text>
<line x1="154.16" y1="579.60" x2="154.16" y2="580.80" stroke="#000" stroke-width="0.4"/>
<line x1="158.23" y1="579.60" x2="158.23" y2="580.80" stroke="#000" stroke-width="0.4"/>
<line x1="161.12" y1="579.60" x2="161.12" y2="580.80" stroke="#000" stroke-width="0.4"/>
<line x1="163.36" y1="579.60" x2="163.36" y2="580.80" stroke="#000" stroke-width="0.4"/>
<line x1="165.19" y1="579.60" x2="165.19" y2="580.80" stroke="#000" stroke-width="0.4"/>
<line x1="166.74" y1="579.60" x2="166.74" y2="580.80" stroke="#000" stroke-width="0.4"/>
<line x1="168.08" y1="579.60" x2="168.08" y2="580.80" stroke="#000" stroke-width="0.4"/>
<line x1="169.26" y1="579.60" x2="169.26" y2="580.80" stroke="#000" stroke-width="0.4"/>
<line x1="177.28" y1="579.60" x2="177.28" y2="580.80" stroke="#000" stroke-width="0.4"/>
<line x1="181.35" y1="579.60" x2="181.35" y2="580.80" stroke="#000" stroke-width="0.4"/>
<line x1="184.24" y1="579.60" x2="184.24" y2="580.80" stroke="#000" stroke-width="0.4"/>
<line x1="186.48" y1="579.60" x2="186.48" y2="580.80" stroke="#000" stroke-width="0.4"/>
<line x1="188.31" y1="579.60" x2="188.31" y2="580.80" stroke="#000" stroke-width="0.4"/>
<line x1="189.86" y1="579.60" x2="189.86" y2="580.80" stroke="#000" stroke-width="0.4"/>
<line x1="191.20" y1="579.60" x2="191.20" y2="580.80" stroke="#000" stroke-width="0.4"/>
<line x1="192.39" y1="579.60" x2="192.39" y2="580.80" stroke="#000" stroke-width="0.4"/>
<line x1="200.40" y1="579.60" x2="200.40" y2="580.80" stroke="#000" stroke-width="0.4"/>
<line x1="204.48" y1="579.60" x2="204.48" y2="580.80" stroke="#000" stroke-width="0.4"/>
<line x1="207.36" y1="579.60" x2="207.36" y2="580.80" stroke="#000" stroke-width="0.4"/>
<line x1="209.61" y1="579.60" x2="209.61" y2="580.80" stroke="#000" stroke-width="0.4"/>
<line x1="211.44" y1="579.60" x2="211.44" y2="580.80" stroke="#000" stroke-width="0.4"/>
<line x1="212.98" y1="579.60" x2="212.98" y2="580.80" stroke="#000" stroke-width="0.4"/>
<line x1="214.33" y1="579.60" x2="214.33" y2="580.80" stroke="#000" stroke-width="0.4"/>
<line x1="215.51" y1="579.60" x2="215.51" y2="580.80" stroke="#000" stroke-width="0.4"/>
<line x1="223.53" y1="579.60" x2="223.53" y2="580.80" stroke="#000" stroke-width="0.4"/>
<line x1="227.60" y1="579.60" x2="227.60" y2="580.80" stroke="#000" stroke-width="0.4"/>
<line x1="230.49" y1="579.60" x2="230.49" y2="580.80" stroke="#000" stroke-width="0.4"/>
<line x1="232.73" y1="579.60" x2="232.73" y2="580.80" stroke="#000" stroke-width="0.4"/>
<line x1="234.56" y1="579.60" x2="234.56" y2="580.80" stroke="#000" stroke-width="0.4"/>
<line x1="236.11" y1="579.60" x2="236.11" y2="580.80" stroke="#000" stroke-width="0.4"/>
<line x1="237.45" y1="579.60" x2="237.45" y2="580.80" stroke="#000" stroke-width="0.4"/>
<line x1="238.63" y1="579.60" x2="238.63" y2="580.80" stroke="#000" stroke-width="0.4"/>
<path d="M159.42 578.58C160.87 578.45 165.67 578.38 168.08 577.81C170.48 577.23 172.24 576.75 173.85 575.12C175.45 573.48 176.57 570.95 177.69 568.00C178.81 565.05 179.62 561.91 180.58 557.42C181.54 552.94 182.50 547.33 183.46 541.08C184.42 534.83 185.45 526.01 186.35 519.92C187.24 513.83 188.11 508.45 188.85 504.54C189.58 500.63 190.16 498.22 190.77 496.46C191.38 494.70 191.79 493.90 192.50 493.96C193.21 494.03 194.26 495.15 195.00 496.85C195.74 498.54 196.12 500.37 196.92 504.15C197.72 507.94 198.85 514.41 199.81 519.54C200.77 524.67 201.57 529.47 202.69 534.92C203.81 540.37 205.26 547.26 206.54 552.23C207.82 557.20 209.10 561.46 210.38 564.73C211.67 568.00 212.95 570.02 214.23 571.85C215.51 573.67 216.79 574.73 218.08 575.69C219.36 576.65 220.16 577.13 221.92 577.62C223.69 578.10 227.53 578.42 228.65 578.58" fill="none" stroke="#c41f35" stroke-width="1.25"/>
<path d="M168.08 578.58C168.56 578.48 170.00 578.54 170.96 578.00C171.92 577.46 172.88 577.68 173.85 575.31C174.81 572.94 175.93 568.58 176.73 563.77C177.53 558.96 178.01 553.19 178.65 546.46C179.29 539.73 179.94 530.76 180.58 523.38C181.22 516.01 181.99 506.97 182.50 502.23C183.01 497.49 183.33 496.46 183.65 494.92C183.97 493.38 184.17 493.00 184.42 493.00C184.68 493.00 184.87 493.64 185.19 494.92C185.51 496.21 185.83 496.59 186.35 500.69C186.86 504.79 187.63 512.55 188.27 519.54C188.91 526.53 189.55 535.56 190.19 542.62C190.83 549.67 191.47 556.88 192.12 561.85C192.76 566.81 193.40 569.92 194.04 572.42C194.68 574.92 195.16 575.85 195.96 576.85C196.76 577.84 197.88 578.10 198.85 578.38C199.81 578.67 201.25 578.54 201.73 578.58" fill="none" stroke="#0d518a" stroke-width="1.25"/>
<line x1="200.00" y1="492.50" x2="211.30" y2="492.50" stroke="#0d518a" stroke-width="1.0"/>
<line x1="200.00" y1="504.50" x2="211.30" y2="504.50" stroke="#c41f35" stroke-width="1.0"/>
<text x="214.80" y="495.00" font-size="5.9" text-anchor="start">WT</text>
<text x="214.80" y="506.30" font-size="5.9" text-anchor="start">SMS1</text>
<text x="214.80" y="517.20" font-size="5.9" text-anchor="start">-KM</text>
<line x1="147.00" y1="592.00" x2="238.00" y2="592.00" stroke="#000" stroke-width="1.1"/>
<path d="M242.6 592L236.6 589.4V594.6Z" fill="#000" stroke="none" stroke-width="1"/>
<text x="0" y="0" font-size="8.8" text-anchor="middle" transform="translate(193.60 602.60) scale(0.7217 1)" stroke="#000" stroke-width="0.25">Fluo-4</text>
<text x="0" y="0" font-size="8.4" text-anchor="middle" transform="translate(130.20 535.60) rotate(-90) scale(0.6951 1)" stroke="#000" stroke-width="0.25">Counts</text>
<line x1="283.30" y1="485.45" x2="283.30" y2="580.90" stroke="#000" stroke-width="1.4"/>
<line x1="279.90" y1="580.20" x2="283.30" y2="580.20" stroke="#000" stroke-width="1.1"/>
<text x="0" y="0" font-size="7.7" text-anchor="end" transform="translate(278.10 583.00) scale(1.1200 1)" stroke="#000" stroke-width="0.12">0</text>
<line x1="279.90" y1="561.36" x2="283.30" y2="561.36" stroke="#000" stroke-width="1.1"/>
<text x="0" y="0" font-size="7.7" text-anchor="end" transform="translate(278.10 564.16) scale(1.1200 1)" stroke="#000" stroke-width="0.12">2</text>
<line x1="279.90" y1="542.52" x2="283.30" y2="542.52" stroke="#000" stroke-width="1.1"/>
<text x="0" y="0" font-size="7.7" text-anchor="end" transform="translate(278.10 545.32) scale(1.1200 1)" stroke="#000" stroke-width="0.12">4</text>
<line x1="279.90" y1="523.68" x2="283.30" y2="523.68" stroke="#000" stroke-width="1.1"/>
<text x="0" y="0" font-size="7.7" text-anchor="end" transform="translate(278.10 526.48) scale(1.1200 1)" stroke="#000" stroke-width="0.12">6</text>
<line x1="279.90" y1="504.84" x2="283.30" y2="504.84" stroke="#000" stroke-width="1.1"/>
<text x="0" y="0" font-size="7.7" text-anchor="end" transform="translate(278.10 507.64) scale(1.1200 1)" stroke="#000" stroke-width="0.12">8</text>
<line x1="279.90" y1="486.00" x2="283.30" y2="486.00" stroke="#000" stroke-width="1.1"/>
<text x="0" y="0" font-size="7.7" text-anchor="end" transform="translate(278.10 488.80) scale(1.1200 1)" stroke="#000" stroke-width="0.12">10</text>
<line x1="282.60" y1="580.20" x2="363.50" y2="580.20" stroke="#000" stroke-width="1.4"/>
<line x1="283.30" y1="580.20" x2="283.30" y2="583.60" stroke="#000" stroke-width="1.1"/>
<line x1="323.00" y1="580.20" x2="323.00" y2="583.60" stroke="#000" stroke-width="1.1"/>
<line x1="363.00" y1="580.20" x2="363.00" y2="583.60" stroke="#000" stroke-width="1.1"/>
<rect x="293.20" y="537.40" width="20.70" height="42.30" fill="#c41f35"/>
<rect x="332.60" y="500.30" width="20.80" height="79.40" fill="#0d518a"/>
<line x1="303.90" y1="535.30" x2="303.90" y2="537.40" stroke="#000" stroke-width="1.15"/>
<line x1="301.20" y1="535.30" x2="306.60" y2="535.30" stroke="#000" stroke-width="1.15"/>
<line x1="343.00" y1="491.70" x2="343.00" y2="509.80" stroke="#000" stroke-width="1.15"/>
<line x1="340.20" y1="491.70" x2="345.80" y2="491.70" stroke="#000" stroke-width="1.15"/>
<line x1="340.20" y1="509.80" x2="345.80" y2="509.80" stroke="#000" stroke-width="1.15"/>
<path d="M303.90 528.40V475.60H342.50V485.60" fill="none" stroke="#000" stroke-width="1.2"/>
<text x="323.80" y="473.68" font-size="8" text-anchor="middle" stroke="#000" stroke-width="0.35">**</text>
<text x="302.20" y="592.90" font-size="8.3" text-anchor="middle" stroke="#000" stroke-width="0.12">WT</text>
<text x="343.60" y="592.90" font-size="8.3" text-anchor="middle" stroke="#000" stroke-width="0.12">SMS1-KO</text>
<text x="0" y="0" font-size="8.3" text-anchor="middle" transform="translate(266.20 534.00) rotate(-90) scale(0.7462 1)" stroke="#000" stroke-width="0.25">Fluo4 (MFI)</text>
<path d="M0 0.6H520M0.6 0V608" stroke="#000" stroke-width="1.25" fill="none"/><path d="M0 607.125H520" stroke="#000" stroke-width="1.75" fill="none"/><path d="M519.325 0V608" stroke="#000" stroke-width="1.35" fill="none"/>
</svg>
</body></html>
